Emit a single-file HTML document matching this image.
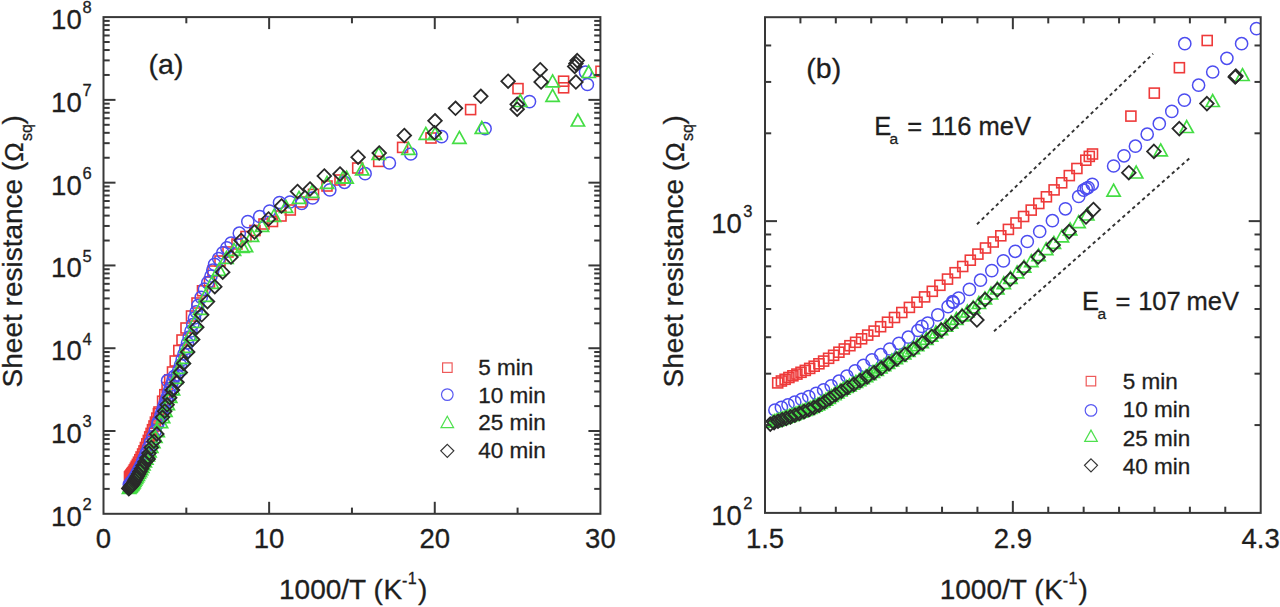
<!DOCTYPE html>
<html><head><meta charset="utf-8"><style>
html,body{margin:0;padding:0;background:#fff;}
svg{display:block;}
text{font-family:"Liberation Sans", sans-serif;stroke:#1e1e1e;stroke-width:0.3px;paint-order:stroke;}
</style></head><body>
<svg width="1280" height="607" viewBox="0 0 1280 607">
<rect width="1280" height="607" fill="#fff"/>
<defs><clipPath id="ca"><rect x="103.5" y="17.1" width="496.9" height="496.7"/></clipPath><clipPath id="cb"><rect x="765.0" y="17.2" width="495.7" height="495.7"/></clipPath></defs>
<g clip-path="url(#ca)">
<rect x="124.5" y="471.9" width="10.0" height="10.0" fill="none" stroke="#ee3a3a" stroke-width="1.6"/>
<rect x="125.2" y="470.9" width="10.0" height="10.0" fill="none" stroke="#ee3a3a" stroke-width="1.6"/>
<rect x="126.0" y="469.9" width="10.0" height="10.0" fill="none" stroke="#ee3a3a" stroke-width="1.6"/>
<rect x="126.7" y="468.9" width="10.0" height="10.0" fill="none" stroke="#ee3a3a" stroke-width="1.6"/>
<rect x="127.5" y="467.8" width="10.0" height="10.0" fill="none" stroke="#ee3a3a" stroke-width="1.6"/>
<rect x="128.4" y="466.5" width="10.0" height="10.0" fill="none" stroke="#ee3a3a" stroke-width="1.6"/>
<rect x="129.3" y="464.9" width="10.0" height="10.0" fill="none" stroke="#ee3a3a" stroke-width="1.6"/>
<rect x="130.3" y="463.2" width="10.0" height="10.0" fill="none" stroke="#ee3a3a" stroke-width="1.6"/>
<rect x="131.3" y="461.3" width="10.0" height="10.0" fill="none" stroke="#ee3a3a" stroke-width="1.6"/>
<rect x="132.4" y="459.4" width="10.0" height="10.0" fill="none" stroke="#ee3a3a" stroke-width="1.6"/>
<rect x="133.5" y="457.2" width="10.0" height="10.0" fill="none" stroke="#ee3a3a" stroke-width="1.6"/>
<rect x="134.8" y="454.7" width="10.0" height="10.0" fill="none" stroke="#ee3a3a" stroke-width="1.6"/>
<rect x="136.1" y="452.0" width="10.0" height="10.0" fill="none" stroke="#ee3a3a" stroke-width="1.6"/>
<rect x="137.6" y="449.0" width="10.0" height="10.0" fill="none" stroke="#ee3a3a" stroke-width="1.6"/>
<rect x="139.0" y="445.9" width="10.0" height="10.0" fill="none" stroke="#ee3a3a" stroke-width="1.6"/>
<rect x="140.4" y="442.5" width="10.0" height="10.0" fill="none" stroke="#ee3a3a" stroke-width="1.6"/>
<rect x="141.8" y="438.9" width="10.0" height="10.0" fill="none" stroke="#ee3a3a" stroke-width="1.6"/>
<rect x="143.3" y="435.4" width="10.0" height="10.0" fill="none" stroke="#ee3a3a" stroke-width="1.6"/>
<rect x="144.7" y="431.9" width="10.0" height="10.0" fill="none" stroke="#ee3a3a" stroke-width="1.6"/>
<rect x="146.1" y="428.4" width="10.0" height="10.0" fill="none" stroke="#ee3a3a" stroke-width="1.6"/>
<rect x="147.5" y="424.7" width="10.0" height="10.0" fill="none" stroke="#ee3a3a" stroke-width="1.6"/>
<rect x="149.0" y="421.0" width="10.0" height="10.0" fill="none" stroke="#ee3a3a" stroke-width="1.6"/>
<rect x="150.4" y="417.1" width="10.0" height="10.0" fill="none" stroke="#ee3a3a" stroke-width="1.6"/>
<rect x="151.8" y="413.1" width="10.0" height="10.0" fill="none" stroke="#ee3a3a" stroke-width="1.6"/>
<rect x="153.4" y="408.7" width="10.0" height="10.0" fill="none" stroke="#ee3a3a" stroke-width="1.6"/>
<rect x="154.0" y="407.0" width="10.0" height="10.0" fill="none" stroke="#ee3a3a" stroke-width="1.6"/>
<rect x="157.6" y="396.2" width="10.0" height="10.0" fill="none" stroke="#ee3a3a" stroke-width="1.6"/>
<rect x="159.8" y="389.7" width="10.0" height="10.0" fill="none" stroke="#ee3a3a" stroke-width="1.6"/>
<rect x="162.1" y="382.5" width="10.0" height="10.0" fill="none" stroke="#ee3a3a" stroke-width="1.6"/>
<rect x="164.7" y="374.8" width="10.0" height="10.0" fill="none" stroke="#ee3a3a" stroke-width="1.6"/>
<rect x="167.5" y="367.0" width="10.0" height="10.0" fill="none" stroke="#ee3a3a" stroke-width="1.6"/>
<rect x="170.2" y="356.0" width="10.0" height="10.0" fill="none" stroke="#ee3a3a" stroke-width="1.6"/>
<rect x="173.8" y="345.5" width="10.0" height="10.0" fill="none" stroke="#ee3a3a" stroke-width="1.6"/>
<rect x="177.0" y="335.0" width="10.0" height="10.0" fill="none" stroke="#ee3a3a" stroke-width="1.6"/>
<rect x="181.0" y="323.0" width="10.0" height="10.0" fill="none" stroke="#ee3a3a" stroke-width="1.6"/>
<rect x="186.5" y="311.0" width="10.0" height="10.0" fill="none" stroke="#ee3a3a" stroke-width="1.6"/>
<rect x="192.0" y="298.0" width="10.0" height="10.0" fill="none" stroke="#ee3a3a" stroke-width="1.6"/>
<rect x="197.5" y="285.8" width="10.0" height="10.0" fill="none" stroke="#ee3a3a" stroke-width="1.6"/>
<rect x="204.5" y="277.0" width="10.0" height="10.0" fill="none" stroke="#ee3a3a" stroke-width="1.6"/>
<rect x="208.0" y="266.0" width="10.0" height="10.0" fill="none" stroke="#ee3a3a" stroke-width="1.6"/>
<rect x="215.0" y="256.0" width="10.0" height="10.0" fill="none" stroke="#ee3a3a" stroke-width="1.6"/>
<rect x="223.0" y="247.0" width="10.0" height="10.0" fill="none" stroke="#ee3a3a" stroke-width="1.6"/>
<rect x="232.0" y="239.0" width="10.0" height="10.0" fill="none" stroke="#ee3a3a" stroke-width="1.6"/>
<rect x="241.0" y="231.5" width="10.0" height="10.0" fill="none" stroke="#ee3a3a" stroke-width="1.6"/>
<rect x="250.0" y="225.5" width="10.0" height="10.0" fill="none" stroke="#ee3a3a" stroke-width="1.6"/>
<rect x="259.0" y="219.0" width="10.0" height="10.0" fill="none" stroke="#ee3a3a" stroke-width="1.6"/>
<rect x="267.5" y="216.5" width="10.0" height="10.0" fill="none" stroke="#ee3a3a" stroke-width="1.6"/>
<rect x="276.0" y="211.0" width="10.0" height="10.0" fill="none" stroke="#ee3a3a" stroke-width="1.6"/>
<rect x="285.3" y="205.0" width="10.0" height="10.0" fill="none" stroke="#ee3a3a" stroke-width="1.6"/>
<rect x="296.0" y="197.0" width="10.0" height="10.0" fill="none" stroke="#ee3a3a" stroke-width="1.6"/>
<rect x="308.5" y="189.4" width="10.0" height="10.0" fill="none" stroke="#ee3a3a" stroke-width="1.6"/>
<rect x="322.0" y="181.0" width="10.0" height="10.0" fill="none" stroke="#ee3a3a" stroke-width="1.6"/>
<rect x="335.0" y="175.0" width="10.0" height="10.0" fill="none" stroke="#ee3a3a" stroke-width="1.6"/>
<rect x="352.7" y="163.0" width="10.0" height="10.0" fill="none" stroke="#ee3a3a" stroke-width="1.6"/>
<rect x="373.7" y="156.4" width="10.0" height="10.0" fill="none" stroke="#ee3a3a" stroke-width="1.6"/>
<rect x="397.6" y="142.4" width="10.0" height="10.0" fill="none" stroke="#ee3a3a" stroke-width="1.6"/>
<rect x="426.0" y="133.0" width="10.0" height="10.0" fill="none" stroke="#ee3a3a" stroke-width="1.6"/>
<rect x="465.6" y="104.6" width="10.0" height="10.0" fill="none" stroke="#ee3a3a" stroke-width="1.6"/>
<rect x="513.0" y="83.6" width="10.0" height="10.0" fill="none" stroke="#ee3a3a" stroke-width="1.6"/>
<rect x="558.6" y="76.2" width="10.0" height="10.0" fill="none" stroke="#ee3a3a" stroke-width="1.6"/>
<rect x="558.6" y="82.8" width="10.0" height="10.0" fill="none" stroke="#ee3a3a" stroke-width="1.6"/>
<rect x="596.0" y="66.3" width="10.0" height="10.0" fill="none" stroke="#ee3a3a" stroke-width="1.6"/>
<circle cx="129.3" cy="484.6" r="6.1" fill="none" stroke="#4d4df0" stroke-width="1.5"/>
<circle cx="130.5" cy="483.1" r="6.1" fill="none" stroke="#4d4df0" stroke-width="1.5"/>
<circle cx="131.8" cy="481.6" r="6.1" fill="none" stroke="#4d4df0" stroke-width="1.5"/>
<circle cx="133.1" cy="479.9" r="6.1" fill="none" stroke="#4d4df0" stroke-width="1.5"/>
<circle cx="134.5" cy="477.7" r="6.1" fill="none" stroke="#4d4df0" stroke-width="1.5"/>
<circle cx="136.0" cy="475.0" r="6.1" fill="none" stroke="#4d4df0" stroke-width="1.5"/>
<circle cx="137.6" cy="471.9" r="6.1" fill="none" stroke="#4d4df0" stroke-width="1.5"/>
<circle cx="139.2" cy="468.9" r="6.1" fill="none" stroke="#4d4df0" stroke-width="1.5"/>
<circle cx="140.9" cy="465.7" r="6.1" fill="none" stroke="#4d4df0" stroke-width="1.5"/>
<circle cx="142.7" cy="462.0" r="6.1" fill="none" stroke="#4d4df0" stroke-width="1.5"/>
<circle cx="144.5" cy="457.6" r="6.1" fill="none" stroke="#4d4df0" stroke-width="1.5"/>
<circle cx="146.5" cy="452.8" r="6.1" fill="none" stroke="#4d4df0" stroke-width="1.5"/>
<circle cx="148.5" cy="447.8" r="6.1" fill="none" stroke="#4d4df0" stroke-width="1.5"/>
<circle cx="150.6" cy="442.3" r="6.1" fill="none" stroke="#4d4df0" stroke-width="1.5"/>
<circle cx="152.9" cy="436.8" r="6.1" fill="none" stroke="#4d4df0" stroke-width="1.5"/>
<circle cx="155.2" cy="430.9" r="6.1" fill="none" stroke="#4d4df0" stroke-width="1.5"/>
<circle cx="157.7" cy="424.0" r="6.1" fill="none" stroke="#4d4df0" stroke-width="1.5"/>
<circle cx="143.0" cy="460.9" r="6.1" fill="none" stroke="#4d4df0" stroke-width="1.5"/>
<circle cx="146.0" cy="454.1" r="6.1" fill="none" stroke="#4d4df0" stroke-width="1.5"/>
<circle cx="158.4" cy="421.7" r="6.1" fill="none" stroke="#4d4df0" stroke-width="1.5"/>
<circle cx="161.0" cy="415.4" r="6.1" fill="none" stroke="#4d4df0" stroke-width="1.5"/>
<circle cx="161.9" cy="412.5" r="6.1" fill="none" stroke="#4d4df0" stroke-width="1.5"/>
<circle cx="163.0" cy="409.7" r="6.1" fill="none" stroke="#4d4df0" stroke-width="1.5"/>
<circle cx="164.1" cy="406.3" r="6.1" fill="none" stroke="#4d4df0" stroke-width="1.5"/>
<circle cx="165.2" cy="403.4" r="6.1" fill="none" stroke="#4d4df0" stroke-width="1.5"/>
<circle cx="166.4" cy="399.9" r="6.1" fill="none" stroke="#4d4df0" stroke-width="1.5"/>
<circle cx="167.6" cy="396.7" r="6.1" fill="none" stroke="#4d4df0" stroke-width="1.5"/>
<circle cx="168.9" cy="392.4" r="6.1" fill="none" stroke="#4d4df0" stroke-width="1.5"/>
<circle cx="170.2" cy="388.7" r="6.1" fill="none" stroke="#4d4df0" stroke-width="1.5"/>
<circle cx="171.6" cy="384.8" r="6.1" fill="none" stroke="#4d4df0" stroke-width="1.5"/>
<circle cx="172.9" cy="380.7" r="6.1" fill="none" stroke="#4d4df0" stroke-width="1.5"/>
<circle cx="174.3" cy="376.4" r="6.1" fill="none" stroke="#4d4df0" stroke-width="1.5"/>
<circle cx="167.6" cy="380.7" r="6.1" fill="none" stroke="#4d4df0" stroke-width="1.5"/>
<circle cx="177.0" cy="375.0" r="6.1" fill="none" stroke="#4d4df0" stroke-width="1.5"/>
<circle cx="178.8" cy="370.0" r="6.1" fill="none" stroke="#4d4df0" stroke-width="1.5"/>
<circle cx="180.5" cy="365.0" r="6.1" fill="none" stroke="#4d4df0" stroke-width="1.5"/>
<circle cx="182.2" cy="359.5" r="6.1" fill="none" stroke="#4d4df0" stroke-width="1.5"/>
<circle cx="184.0" cy="354.0" r="6.1" fill="none" stroke="#4d4df0" stroke-width="1.5"/>
<circle cx="185.8" cy="348.5" r="6.1" fill="none" stroke="#4d4df0" stroke-width="1.5"/>
<circle cx="187.5" cy="343.0" r="6.1" fill="none" stroke="#4d4df0" stroke-width="1.5"/>
<circle cx="189.2" cy="337.0" r="6.1" fill="none" stroke="#4d4df0" stroke-width="1.5"/>
<circle cx="191.0" cy="331.0" r="6.1" fill="none" stroke="#4d4df0" stroke-width="1.5"/>
<circle cx="192.8" cy="324.5" r="6.1" fill="none" stroke="#4d4df0" stroke-width="1.5"/>
<circle cx="194.5" cy="318.0" r="6.1" fill="none" stroke="#4d4df0" stroke-width="1.5"/>
<circle cx="196.2" cy="311.8" r="6.1" fill="none" stroke="#4d4df0" stroke-width="1.5"/>
<circle cx="197.9" cy="305.6" r="6.1" fill="none" stroke="#4d4df0" stroke-width="1.5"/>
<circle cx="201.2" cy="297.4" r="6.1" fill="none" stroke="#4d4df0" stroke-width="1.5"/>
<circle cx="204.5" cy="289.1" r="6.1" fill="none" stroke="#4d4df0" stroke-width="1.5"/>
<circle cx="207.8" cy="282.6" r="6.1" fill="none" stroke="#4d4df0" stroke-width="1.5"/>
<circle cx="211.0" cy="276.0" r="6.1" fill="none" stroke="#4d4df0" stroke-width="1.5"/>
<circle cx="212.8" cy="270.2" r="6.1" fill="none" stroke="#4d4df0" stroke-width="1.5"/>
<circle cx="214.6" cy="264.4" r="6.1" fill="none" stroke="#4d4df0" stroke-width="1.5"/>
<circle cx="218.7" cy="258.6" r="6.1" fill="none" stroke="#4d4df0" stroke-width="1.5"/>
<circle cx="222.8" cy="252.9" r="6.1" fill="none" stroke="#4d4df0" stroke-width="1.5"/>
<circle cx="226.9" cy="247.9" r="6.1" fill="none" stroke="#4d4df0" stroke-width="1.5"/>
<circle cx="231.1" cy="243.0" r="6.1" fill="none" stroke="#4d4df0" stroke-width="1.5"/>
<circle cx="239.3" cy="233.2" r="6.1" fill="none" stroke="#4d4df0" stroke-width="1.5"/>
<circle cx="247.8" cy="221.6" r="6.1" fill="none" stroke="#4d4df0" stroke-width="1.5"/>
<circle cx="259.7" cy="216.5" r="6.1" fill="none" stroke="#4d4df0" stroke-width="1.5"/>
<circle cx="269.6" cy="211.0" r="6.1" fill="none" stroke="#4d4df0" stroke-width="1.5"/>
<circle cx="279.5" cy="202.5" r="6.1" fill="none" stroke="#4d4df0" stroke-width="1.5"/>
<circle cx="290.0" cy="202.0" r="6.1" fill="none" stroke="#4d4df0" stroke-width="1.5"/>
<circle cx="301.7" cy="203.5" r="6.1" fill="none" stroke="#4d4df0" stroke-width="1.5"/>
<circle cx="312.6" cy="198.0" r="6.1" fill="none" stroke="#4d4df0" stroke-width="1.5"/>
<circle cx="329.8" cy="189.9" r="6.1" fill="none" stroke="#4d4df0" stroke-width="1.5"/>
<circle cx="344.5" cy="182.3" r="6.1" fill="none" stroke="#4d4df0" stroke-width="1.5"/>
<circle cx="365.1" cy="173.7" r="6.1" fill="none" stroke="#4d4df0" stroke-width="1.5"/>
<circle cx="389.4" cy="163.0" r="6.1" fill="none" stroke="#4d4df0" stroke-width="1.5"/>
<circle cx="410.8" cy="154.0" r="6.1" fill="none" stroke="#4d4df0" stroke-width="1.5"/>
<circle cx="441.6" cy="136.7" r="6.1" fill="none" stroke="#4d4df0" stroke-width="1.5"/>
<circle cx="485.1" cy="128.7" r="6.1" fill="none" stroke="#4d4df0" stroke-width="1.5"/>
<circle cx="529.5" cy="101.6" r="6.1" fill="none" stroke="#4d4df0" stroke-width="1.5"/>
<circle cx="585.5" cy="72.1" r="6.1" fill="none" stroke="#4d4df0" stroke-width="1.5"/>
<circle cx="587.4" cy="84.5" r="6.1" fill="none" stroke="#4d4df0" stroke-width="1.5"/>
<path d="M129.1,481.4L135.7,493.3L122.5,493.3Z" fill="none" stroke="#44dd44" stroke-width="1.7" stroke-linejoin="miter"/>
<path d="M129.6,480.8L136.2,492.7L123.0,492.7Z" fill="none" stroke="#44dd44" stroke-width="1.7" stroke-linejoin="miter"/>
<path d="M130.2,480.2L136.8,492.1L123.6,492.1Z" fill="none" stroke="#44dd44" stroke-width="1.7" stroke-linejoin="miter"/>
<path d="M130.8,479.5L137.4,491.4L124.2,491.4Z" fill="none" stroke="#44dd44" stroke-width="1.7" stroke-linejoin="miter"/>
<path d="M131.5,478.8L138.1,490.7L124.9,490.7Z" fill="none" stroke="#44dd44" stroke-width="1.7" stroke-linejoin="miter"/>
<path d="M132.1,478.0L138.7,489.9L125.5,489.9Z" fill="none" stroke="#44dd44" stroke-width="1.7" stroke-linejoin="miter"/>
<path d="M132.8,477.1L139.4,489.0L126.2,489.0Z" fill="none" stroke="#44dd44" stroke-width="1.7" stroke-linejoin="miter"/>
<path d="M133.5,476.0L140.1,487.9L126.9,487.9Z" fill="none" stroke="#44dd44" stroke-width="1.7" stroke-linejoin="miter"/>
<path d="M134.3,474.6L140.9,486.5L127.7,486.5Z" fill="none" stroke="#44dd44" stroke-width="1.7" stroke-linejoin="miter"/>
<path d="M135.1,473.1L141.7,484.9L128.5,484.9Z" fill="none" stroke="#44dd44" stroke-width="1.7" stroke-linejoin="miter"/>
<path d="M136.0,471.5L142.6,483.4L129.4,483.4Z" fill="none" stroke="#44dd44" stroke-width="1.7" stroke-linejoin="miter"/>
<path d="M136.8,470.1L143.4,482.0L130.2,482.0Z" fill="none" stroke="#44dd44" stroke-width="1.7" stroke-linejoin="miter"/>
<path d="M137.8,468.5L144.4,480.3L131.2,480.3Z" fill="none" stroke="#44dd44" stroke-width="1.7" stroke-linejoin="miter"/>
<path d="M138.8,466.7L145.4,478.5L132.2,478.5Z" fill="none" stroke="#44dd44" stroke-width="1.7" stroke-linejoin="miter"/>
<path d="M139.9,464.7L146.5,476.6L133.3,476.6Z" fill="none" stroke="#44dd44" stroke-width="1.7" stroke-linejoin="miter"/>
<path d="M141.0,462.7L147.6,474.6L134.4,474.6Z" fill="none" stroke="#44dd44" stroke-width="1.7" stroke-linejoin="miter"/>
<path d="M142.2,460.5L148.8,472.4L135.6,472.4Z" fill="none" stroke="#44dd44" stroke-width="1.7" stroke-linejoin="miter"/>
<path d="M143.4,457.9L150.0,469.8L136.8,469.8Z" fill="none" stroke="#44dd44" stroke-width="1.7" stroke-linejoin="miter"/>
<path d="M144.8,455.1L151.4,467.0L138.2,467.0Z" fill="none" stroke="#44dd44" stroke-width="1.7" stroke-linejoin="miter"/>
<path d="M146.3,452.2L152.9,464.1L139.7,464.1Z" fill="none" stroke="#44dd44" stroke-width="1.7" stroke-linejoin="miter"/>
<path d="M147.8,449.0L154.4,460.8L141.2,460.8Z" fill="none" stroke="#44dd44" stroke-width="1.7" stroke-linejoin="miter"/>
<path d="M149.5,445.0L156.1,456.9L142.9,456.9Z" fill="none" stroke="#44dd44" stroke-width="1.7" stroke-linejoin="miter"/>
<path d="M151.3,440.6L157.9,452.4L144.7,452.4Z" fill="none" stroke="#44dd44" stroke-width="1.7" stroke-linejoin="miter"/>
<path d="M153.3,435.8L159.9,447.7L146.7,447.7Z" fill="none" stroke="#44dd44" stroke-width="1.7" stroke-linejoin="miter"/>
<path d="M155.4,430.7L162.0,442.5L148.8,442.5Z" fill="none" stroke="#44dd44" stroke-width="1.7" stroke-linejoin="miter"/>
<path d="M157.7,424.8L164.3,436.6L151.1,436.6Z" fill="none" stroke="#44dd44" stroke-width="1.7" stroke-linejoin="miter"/>
<path d="M161.0,415.8L167.6,427.7L154.4,427.7Z" fill="none" stroke="#44dd44" stroke-width="1.7" stroke-linejoin="miter"/>
<path d="M163.1,410.7L169.7,422.6L156.5,422.6Z" fill="none" stroke="#44dd44" stroke-width="1.7" stroke-linejoin="miter"/>
<path d="M165.4,404.4L172.0,416.3L158.8,416.3Z" fill="none" stroke="#44dd44" stroke-width="1.7" stroke-linejoin="miter"/>
<path d="M167.8,397.8L174.4,409.6L161.2,409.6Z" fill="none" stroke="#44dd44" stroke-width="1.7" stroke-linejoin="miter"/>
<path d="M170.2,390.4L176.8,402.3L163.6,402.3Z" fill="none" stroke="#44dd44" stroke-width="1.7" stroke-linejoin="miter"/>
<path d="M173.0,383.0L179.6,394.9L166.4,394.9Z" fill="none" stroke="#44dd44" stroke-width="1.7" stroke-linejoin="miter"/>
<path d="M176.0,371.4L182.6,383.3L169.4,383.3Z" fill="none" stroke="#44dd44" stroke-width="1.7" stroke-linejoin="miter"/>
<path d="M179.5,361.4L186.1,373.3L172.9,373.3Z" fill="none" stroke="#44dd44" stroke-width="1.7" stroke-linejoin="miter"/>
<path d="M183.0,351.4L189.6,363.3L176.4,363.3Z" fill="none" stroke="#44dd44" stroke-width="1.7" stroke-linejoin="miter"/>
<path d="M186.5,340.4L193.1,352.3L179.9,352.3Z" fill="none" stroke="#44dd44" stroke-width="1.7" stroke-linejoin="miter"/>
<path d="M190.5,328.4L197.1,340.3L183.9,340.3Z" fill="none" stroke="#44dd44" stroke-width="1.7" stroke-linejoin="miter"/>
<path d="M195.0,315.4L201.6,327.3L188.4,327.3Z" fill="none" stroke="#44dd44" stroke-width="1.7" stroke-linejoin="miter"/>
<path d="M200.0,302.4L206.6,314.3L193.4,314.3Z" fill="none" stroke="#44dd44" stroke-width="1.7" stroke-linejoin="miter"/>
<path d="M205.5,289.4L212.1,301.3L198.9,301.3Z" fill="none" stroke="#44dd44" stroke-width="1.7" stroke-linejoin="miter"/>
<path d="M212.0,276.4L218.6,288.3L205.4,288.3Z" fill="none" stroke="#44dd44" stroke-width="1.7" stroke-linejoin="miter"/>
<path d="M219.0,263.4L225.6,275.3L212.4,275.3Z" fill="none" stroke="#44dd44" stroke-width="1.7" stroke-linejoin="miter"/>
<path d="M226.5,251.4L233.1,263.3L219.9,263.3Z" fill="none" stroke="#44dd44" stroke-width="1.7" stroke-linejoin="miter"/>
<path d="M234.0,243.4L240.6,255.3L227.4,255.3Z" fill="none" stroke="#44dd44" stroke-width="1.7" stroke-linejoin="miter"/>
<path d="M242.5,240.5L249.1,252.4L235.9,252.4Z" fill="none" stroke="#44dd44" stroke-width="1.7" stroke-linejoin="miter"/>
<path d="M246.0,239.7L252.6,251.6L239.4,251.6Z" fill="none" stroke="#44dd44" stroke-width="1.7" stroke-linejoin="miter"/>
<path d="M252.0,229.4L258.6,241.3L245.4,241.3Z" fill="none" stroke="#44dd44" stroke-width="1.7" stroke-linejoin="miter"/>
<path d="M262.0,219.4L268.6,231.3L255.4,231.3Z" fill="none" stroke="#44dd44" stroke-width="1.7" stroke-linejoin="miter"/>
<path d="M274.0,209.4L280.6,221.3L267.4,221.3Z" fill="none" stroke="#44dd44" stroke-width="1.7" stroke-linejoin="miter"/>
<path d="M286.0,200.4L292.6,212.3L279.4,212.3Z" fill="none" stroke="#44dd44" stroke-width="1.7" stroke-linejoin="miter"/>
<path d="M299.0,191.4L305.6,203.3L292.4,203.3Z" fill="none" stroke="#44dd44" stroke-width="1.7" stroke-linejoin="miter"/>
<path d="M312.0,185.4L318.6,197.3L305.4,197.3Z" fill="none" stroke="#44dd44" stroke-width="1.7" stroke-linejoin="miter"/>
<path d="M327.0,176.4L333.6,188.3L320.4,188.3Z" fill="none" stroke="#44dd44" stroke-width="1.7" stroke-linejoin="miter"/>
<path d="M343.0,171.3L349.6,183.2L336.4,183.2Z" fill="none" stroke="#44dd44" stroke-width="1.7" stroke-linejoin="miter"/>
<path d="M346.6,171.2L353.2,183.1L340.0,183.1Z" fill="none" stroke="#44dd44" stroke-width="1.7" stroke-linejoin="miter"/>
<path d="M362.2,163.0L368.8,174.9L355.6,174.9Z" fill="none" stroke="#44dd44" stroke-width="1.7" stroke-linejoin="miter"/>
<path d="M378.7,147.4L385.3,159.3L372.1,159.3Z" fill="none" stroke="#44dd44" stroke-width="1.7" stroke-linejoin="miter"/>
<path d="M408.4,142.4L415.0,154.3L401.8,154.3Z" fill="none" stroke="#44dd44" stroke-width="1.7" stroke-linejoin="miter"/>
<path d="M425.8,127.4L432.4,139.3L419.2,139.3Z" fill="none" stroke="#44dd44" stroke-width="1.7" stroke-linejoin="miter"/>
<path d="M435.0,127.4L441.6,139.3L428.4,139.3Z" fill="none" stroke="#44dd44" stroke-width="1.7" stroke-linejoin="miter"/>
<path d="M459.4,131.4L466.0,143.3L452.8,143.3Z" fill="none" stroke="#44dd44" stroke-width="1.7" stroke-linejoin="miter"/>
<path d="M481.8,121.5L488.4,133.4L475.2,133.4Z" fill="none" stroke="#44dd44" stroke-width="1.7" stroke-linejoin="miter"/>
<path d="M520.3,94.6L526.9,106.5L513.7,106.5Z" fill="none" stroke="#44dd44" stroke-width="1.7" stroke-linejoin="miter"/>
<path d="M552.6,74.9L559.2,86.8L546.0,86.8Z" fill="none" stroke="#44dd44" stroke-width="1.7" stroke-linejoin="miter"/>
<path d="M552.6,89.4L559.2,101.3L546.0,101.3Z" fill="none" stroke="#44dd44" stroke-width="1.7" stroke-linejoin="miter"/>
<path d="M577.9,114.1L584.5,126.0L571.3,126.0Z" fill="none" stroke="#44dd44" stroke-width="1.7" stroke-linejoin="miter"/>
<path d="M588.7,65.6L595.3,77.5L582.1,77.5Z" fill="none" stroke="#44dd44" stroke-width="1.7" stroke-linejoin="miter"/>
<path d="M128.8,481.8L135.6,488.6L128.8,495.4L122.0,488.6Z" fill="none" stroke="#2a2a2a" stroke-width="1.8"/>
<path d="M129.6,481.0L136.4,487.8L129.6,494.6L122.8,487.8Z" fill="none" stroke="#2a2a2a" stroke-width="1.8"/>
<path d="M130.3,480.2L137.1,487.0L130.3,493.8L123.5,487.0Z" fill="none" stroke="#2a2a2a" stroke-width="1.8"/>
<path d="M131.1,479.3L137.9,486.1L131.1,492.9L124.3,486.1Z" fill="none" stroke="#2a2a2a" stroke-width="1.8"/>
<path d="M132.0,478.3L138.8,485.1L132.0,491.9L125.2,485.1Z" fill="none" stroke="#2a2a2a" stroke-width="1.8"/>
<path d="M132.9,477.1L139.7,483.9L132.9,490.7L126.1,483.9Z" fill="none" stroke="#2a2a2a" stroke-width="1.8"/>
<path d="M133.9,475.5L140.7,482.3L133.9,489.1L127.1,482.3Z" fill="none" stroke="#2a2a2a" stroke-width="1.8"/>
<path d="M134.9,473.5L141.7,480.3L134.9,487.1L128.1,480.3Z" fill="none" stroke="#2a2a2a" stroke-width="1.8"/>
<path d="M136.1,471.5L142.9,478.3L136.1,485.1L129.3,478.3Z" fill="none" stroke="#2a2a2a" stroke-width="1.8"/>
<path d="M137.3,469.5L144.1,476.3L137.3,483.1L130.5,476.3Z" fill="none" stroke="#2a2a2a" stroke-width="1.8"/>
<path d="M138.6,467.2L145.4,474.0L138.6,480.8L131.8,474.0Z" fill="none" stroke="#2a2a2a" stroke-width="1.8"/>
<path d="M139.9,464.7L146.7,471.5L139.9,478.3L133.1,471.5Z" fill="none" stroke="#2a2a2a" stroke-width="1.8"/>
<path d="M141.4,462.0L148.2,468.8L141.4,475.6L134.6,468.8Z" fill="none" stroke="#2a2a2a" stroke-width="1.8"/>
<path d="M143.1,458.8L149.9,465.6L143.1,472.4L136.3,465.6Z" fill="none" stroke="#2a2a2a" stroke-width="1.8"/>
<path d="M144.9,455.1L151.7,461.9L144.9,468.7L138.1,461.9Z" fill="none" stroke="#2a2a2a" stroke-width="1.8"/>
<path d="M146.8,451.3L153.6,458.1L146.8,464.9L140.0,458.1Z" fill="none" stroke="#2a2a2a" stroke-width="1.8"/>
<path d="M148.9,446.5L155.7,453.3L148.9,460.1L142.1,453.3Z" fill="none" stroke="#2a2a2a" stroke-width="1.8"/>
<path d="M151.3,440.7L158.1,447.5L151.3,454.3L144.5,447.5Z" fill="none" stroke="#2a2a2a" stroke-width="1.8"/>
<path d="M153.9,434.4L160.7,441.2L153.9,448.0L147.1,441.2Z" fill="none" stroke="#2a2a2a" stroke-width="1.8"/>
<path d="M156.8,427.2L163.6,434.0L156.8,440.8L150.0,434.0Z" fill="none" stroke="#2a2a2a" stroke-width="1.8"/>
<path d="M148.2,452.3L155.0,459.1L148.2,465.9L141.4,459.1Z" fill="none" stroke="#2a2a2a" stroke-width="1.8"/>
<path d="M162.4,410.5L169.2,417.3L162.4,424.1L155.6,417.3Z" fill="none" stroke="#2a2a2a" stroke-width="1.8"/>
<path d="M164.7,404.4L171.5,411.2L164.7,418.0L157.9,411.2Z" fill="none" stroke="#2a2a2a" stroke-width="1.8"/>
<path d="M167.1,398.0L173.9,404.8L167.1,411.6L160.3,404.8Z" fill="none" stroke="#2a2a2a" stroke-width="1.8"/>
<path d="M169.7,390.9L176.5,397.7L169.7,404.5L162.9,397.7Z" fill="none" stroke="#2a2a2a" stroke-width="1.8"/>
<path d="M172.3,383.3L179.1,390.1L172.3,396.9L165.5,390.1Z" fill="none" stroke="#2a2a2a" stroke-width="1.8"/>
<path d="M172.4,383.1L179.2,389.9L172.4,396.7L165.6,389.9Z" fill="none" stroke="#2a2a2a" stroke-width="1.8"/>
<path d="M177.0,375.5L183.8,382.3L177.0,389.1L170.2,382.3Z" fill="none" stroke="#2a2a2a" stroke-width="1.8"/>
<path d="M180.3,365.6L187.1,372.4L180.3,379.2L173.5,372.4Z" fill="none" stroke="#2a2a2a" stroke-width="1.8"/>
<path d="M183.6,356.6L190.4,363.4L183.6,370.2L176.8,363.4Z" fill="none" stroke="#2a2a2a" stroke-width="1.8"/>
<path d="M187.7,345.1L194.5,351.9L187.7,358.7L180.9,351.9Z" fill="none" stroke="#2a2a2a" stroke-width="1.8"/>
<path d="M192.7,332.7L199.5,339.5L192.7,346.3L185.9,339.5Z" fill="none" stroke="#2a2a2a" stroke-width="1.8"/>
<path d="M196.8,320.4L203.6,327.2L196.8,334.0L190.0,327.2Z" fill="none" stroke="#2a2a2a" stroke-width="1.8"/>
<path d="M201.7,308.0L208.5,314.8L201.7,321.6L194.9,314.8Z" fill="none" stroke="#2a2a2a" stroke-width="1.8"/>
<path d="M207.5,294.8L214.3,301.6L207.5,308.4L200.7,301.6Z" fill="none" stroke="#2a2a2a" stroke-width="1.8"/>
<path d="M214.8,279.9L221.6,286.7L214.8,293.5L208.0,286.7Z" fill="none" stroke="#2a2a2a" stroke-width="1.8"/>
<path d="M222.7,265.4L229.5,272.2L222.7,279.0L215.9,272.2Z" fill="none" stroke="#2a2a2a" stroke-width="1.8"/>
<path d="M231.0,250.2L237.8,257.0L231.0,263.8L224.2,257.0Z" fill="none" stroke="#2a2a2a" stroke-width="1.8"/>
<path d="M241.1,233.7L247.9,240.5L241.1,247.3L234.3,240.5Z" fill="none" stroke="#2a2a2a" stroke-width="1.8"/>
<path d="M254.5,225.2L261.3,232.0L254.5,238.8L247.7,232.0Z" fill="none" stroke="#2a2a2a" stroke-width="1.8"/>
<path d="M268.5,212.2L275.3,219.0L268.5,225.8L261.7,219.0Z" fill="none" stroke="#2a2a2a" stroke-width="1.8"/>
<path d="M281.5,199.2L288.3,206.0L281.5,212.8L274.7,206.0Z" fill="none" stroke="#2a2a2a" stroke-width="1.8"/>
<path d="M297.5,184.7L304.3,191.5L297.5,198.3L290.7,191.5Z" fill="none" stroke="#2a2a2a" stroke-width="1.8"/>
<path d="M310.0,182.2L316.8,189.0L310.0,195.8L303.2,189.0Z" fill="none" stroke="#2a2a2a" stroke-width="1.8"/>
<path d="M324.3,169.2L331.1,176.0L324.3,182.8L317.5,176.0Z" fill="none" stroke="#2a2a2a" stroke-width="1.8"/>
<path d="M340.0,167.2L346.8,174.0L340.0,180.8L333.2,174.0Z" fill="none" stroke="#2a2a2a" stroke-width="1.8"/>
<path d="M358.1,150.4L364.9,157.2L358.1,164.0L351.3,157.2Z" fill="none" stroke="#2a2a2a" stroke-width="1.8"/>
<path d="M379.2,146.2L386.0,153.0L379.2,159.8L372.4,153.0Z" fill="none" stroke="#2a2a2a" stroke-width="1.8"/>
<path d="M404.3,128.7L411.1,135.5L404.3,142.3L397.5,135.5Z" fill="none" stroke="#2a2a2a" stroke-width="1.8"/>
<path d="M435.0,114.0L441.8,120.8L435.0,127.6L428.2,120.8Z" fill="none" stroke="#2a2a2a" stroke-width="1.8"/>
<path d="M434.4,125.9L441.2,132.7L434.4,139.5L427.6,132.7Z" fill="none" stroke="#2a2a2a" stroke-width="1.8"/>
<path d="M455.5,101.5L462.3,108.3L455.5,115.1L448.7,108.3Z" fill="none" stroke="#2a2a2a" stroke-width="1.8"/>
<path d="M480.8,89.5L487.6,96.3L480.8,103.1L474.0,96.3Z" fill="none" stroke="#2a2a2a" stroke-width="1.8"/>
<path d="M508.1,74.4L514.9,81.2L508.1,88.0L501.3,81.2Z" fill="none" stroke="#2a2a2a" stroke-width="1.8"/>
<path d="M517.2,97.5L524.0,104.3L517.2,111.1L510.4,104.3Z" fill="none" stroke="#2a2a2a" stroke-width="1.8"/>
<path d="M517.2,102.4L524.0,109.2L517.2,116.0L510.4,109.2Z" fill="none" stroke="#2a2a2a" stroke-width="1.8"/>
<path d="M540.2,62.9L547.0,69.7L540.2,76.5L533.4,69.7Z" fill="none" stroke="#2a2a2a" stroke-width="1.8"/>
<path d="M541.1,75.2L547.9,82.0L541.1,88.8L534.3,82.0Z" fill="none" stroke="#2a2a2a" stroke-width="1.8"/>
<path d="M577.2,53.8L584.0,60.6L577.2,67.4L570.4,60.6Z" fill="none" stroke="#2a2a2a" stroke-width="1.8"/>
<path d="M575.9,56.8L582.7,63.6L575.9,70.4L569.1,63.6Z" fill="none" stroke="#2a2a2a" stroke-width="1.8"/>
<path d="M574.7,59.6L581.5,66.4L574.7,73.2L567.9,66.4Z" fill="none" stroke="#2a2a2a" stroke-width="1.8"/>
<path d="M575.9,75.2L582.7,82.0L575.9,88.8L569.1,82.0Z" fill="none" stroke="#2a2a2a" stroke-width="1.8"/>
</g>
<g clip-path="url(#cb)">
<rect x="772.7" y="377.9" width="10.0" height="10.0" fill="none" stroke="#ee3a3a" stroke-width="1.6"/>
<rect x="776.4" y="376.0" width="10.0" height="10.0" fill="none" stroke="#ee3a3a" stroke-width="1.6"/>
<rect x="780.1" y="374.3" width="10.0" height="10.0" fill="none" stroke="#ee3a3a" stroke-width="1.6"/>
<rect x="783.9" y="372.5" width="10.0" height="10.0" fill="none" stroke="#ee3a3a" stroke-width="1.6"/>
<rect x="787.9" y="370.8" width="10.0" height="10.0" fill="none" stroke="#ee3a3a" stroke-width="1.6"/>
<rect x="791.9" y="369.1" width="10.0" height="10.0" fill="none" stroke="#ee3a3a" stroke-width="1.6"/>
<rect x="796.0" y="367.3" width="10.0" height="10.0" fill="none" stroke="#ee3a3a" stroke-width="1.6"/>
<rect x="800.3" y="365.4" width="10.0" height="10.0" fill="none" stroke="#ee3a3a" stroke-width="1.6"/>
<rect x="804.7" y="363.4" width="10.0" height="10.0" fill="none" stroke="#ee3a3a" stroke-width="1.6"/>
<rect x="809.2" y="361.2" width="10.0" height="10.0" fill="none" stroke="#ee3a3a" stroke-width="1.6"/>
<rect x="813.9" y="358.8" width="10.0" height="10.0" fill="none" stroke="#ee3a3a" stroke-width="1.6"/>
<rect x="818.6" y="356.1" width="10.0" height="10.0" fill="none" stroke="#ee3a3a" stroke-width="1.6"/>
<rect x="823.6" y="353.3" width="10.0" height="10.0" fill="none" stroke="#ee3a3a" stroke-width="1.6"/>
<rect x="828.6" y="350.3" width="10.0" height="10.0" fill="none" stroke="#ee3a3a" stroke-width="1.6"/>
<rect x="833.9" y="347.2" width="10.0" height="10.0" fill="none" stroke="#ee3a3a" stroke-width="1.6"/>
<rect x="839.3" y="344.0" width="10.0" height="10.0" fill="none" stroke="#ee3a3a" stroke-width="1.6"/>
<rect x="844.9" y="340.7" width="10.0" height="10.0" fill="none" stroke="#ee3a3a" stroke-width="1.6"/>
<rect x="850.6" y="337.3" width="10.0" height="10.0" fill="none" stroke="#ee3a3a" stroke-width="1.6"/>
<rect x="856.6" y="333.8" width="10.0" height="10.0" fill="none" stroke="#ee3a3a" stroke-width="1.6"/>
<rect x="862.7" y="330.1" width="10.0" height="10.0" fill="none" stroke="#ee3a3a" stroke-width="1.6"/>
<rect x="869.1" y="326.1" width="10.0" height="10.0" fill="none" stroke="#ee3a3a" stroke-width="1.6"/>
<rect x="875.6" y="321.7" width="10.0" height="10.0" fill="none" stroke="#ee3a3a" stroke-width="1.6"/>
<rect x="882.5" y="317.2" width="10.0" height="10.0" fill="none" stroke="#ee3a3a" stroke-width="1.6"/>
<rect x="889.5" y="312.5" width="10.0" height="10.0" fill="none" stroke="#ee3a3a" stroke-width="1.6"/>
<rect x="896.8" y="307.5" width="10.0" height="10.0" fill="none" stroke="#ee3a3a" stroke-width="1.6"/>
<rect x="904.4" y="302.4" width="10.0" height="10.0" fill="none" stroke="#ee3a3a" stroke-width="1.6"/>
<rect x="912.0" y="297.2" width="10.0" height="10.0" fill="none" stroke="#ee3a3a" stroke-width="1.6"/>
<rect x="919.6" y="291.9" width="10.0" height="10.0" fill="none" stroke="#ee3a3a" stroke-width="1.6"/>
<rect x="927.3" y="286.3" width="10.0" height="10.0" fill="none" stroke="#ee3a3a" stroke-width="1.6"/>
<rect x="934.9" y="280.3" width="10.0" height="10.0" fill="none" stroke="#ee3a3a" stroke-width="1.6"/>
<rect x="942.5" y="274.1" width="10.0" height="10.0" fill="none" stroke="#ee3a3a" stroke-width="1.6"/>
<rect x="950.1" y="267.7" width="10.0" height="10.0" fill="none" stroke="#ee3a3a" stroke-width="1.6"/>
<rect x="957.7" y="261.5" width="10.0" height="10.0" fill="none" stroke="#ee3a3a" stroke-width="1.6"/>
<rect x="965.3" y="255.2" width="10.0" height="10.0" fill="none" stroke="#ee3a3a" stroke-width="1.6"/>
<rect x="972.9" y="249.1" width="10.0" height="10.0" fill="none" stroke="#ee3a3a" stroke-width="1.6"/>
<rect x="980.5" y="243.0" width="10.0" height="10.0" fill="none" stroke="#ee3a3a" stroke-width="1.6"/>
<rect x="988.2" y="237.0" width="10.0" height="10.0" fill="none" stroke="#ee3a3a" stroke-width="1.6"/>
<rect x="995.8" y="230.8" width="10.0" height="10.0" fill="none" stroke="#ee3a3a" stroke-width="1.6"/>
<rect x="1003.4" y="224.4" width="10.0" height="10.0" fill="none" stroke="#ee3a3a" stroke-width="1.6"/>
<rect x="1011.0" y="218.0" width="10.0" height="10.0" fill="none" stroke="#ee3a3a" stroke-width="1.6"/>
<rect x="1018.6" y="211.5" width="10.0" height="10.0" fill="none" stroke="#ee3a3a" stroke-width="1.6"/>
<rect x="1026.2" y="205.1" width="10.0" height="10.0" fill="none" stroke="#ee3a3a" stroke-width="1.6"/>
<rect x="1033.8" y="198.5" width="10.0" height="10.0" fill="none" stroke="#ee3a3a" stroke-width="1.6"/>
<rect x="1041.4" y="191.8" width="10.0" height="10.0" fill="none" stroke="#ee3a3a" stroke-width="1.6"/>
<rect x="1049.1" y="184.9" width="10.0" height="10.0" fill="none" stroke="#ee3a3a" stroke-width="1.6"/>
<rect x="1056.7" y="177.8" width="10.0" height="10.0" fill="none" stroke="#ee3a3a" stroke-width="1.6"/>
<rect x="1064.3" y="170.6" width="10.0" height="10.0" fill="none" stroke="#ee3a3a" stroke-width="1.6"/>
<rect x="1071.9" y="163.5" width="10.0" height="10.0" fill="none" stroke="#ee3a3a" stroke-width="1.6"/>
<rect x="1080.8" y="155.2" width="10.0" height="10.0" fill="none" stroke="#ee3a3a" stroke-width="1.6"/>
<rect x="1084.3" y="151.4" width="10.0" height="10.0" fill="none" stroke="#ee3a3a" stroke-width="1.6"/>
<rect x="1087.5" y="149.0" width="10.0" height="10.0" fill="none" stroke="#ee3a3a" stroke-width="1.6"/>
<rect x="1125.9" y="111.1" width="10.0" height="10.0" fill="none" stroke="#ee3a3a" stroke-width="1.6"/>
<rect x="1149.3" y="88.1" width="10.0" height="10.0" fill="none" stroke="#ee3a3a" stroke-width="1.6"/>
<rect x="1174.4" y="62.7" width="10.0" height="10.0" fill="none" stroke="#ee3a3a" stroke-width="1.6"/>
<rect x="1202.2" y="35.5" width="10.0" height="10.0" fill="none" stroke="#ee3a3a" stroke-width="1.6"/>
<circle cx="774.9" cy="410.0" r="6.1" fill="none" stroke="#4d4df0" stroke-width="1.5"/>
<circle cx="781.4" cy="407.4" r="6.1" fill="none" stroke="#4d4df0" stroke-width="1.5"/>
<circle cx="788.0" cy="404.8" r="6.1" fill="none" stroke="#4d4df0" stroke-width="1.5"/>
<circle cx="794.8" cy="402.1" r="6.1" fill="none" stroke="#4d4df0" stroke-width="1.5"/>
<circle cx="801.7" cy="399.4" r="6.1" fill="none" stroke="#4d4df0" stroke-width="1.5"/>
<circle cx="808.8" cy="396.5" r="6.1" fill="none" stroke="#4d4df0" stroke-width="1.5"/>
<circle cx="816.1" cy="393.4" r="6.1" fill="none" stroke="#4d4df0" stroke-width="1.5"/>
<circle cx="823.6" cy="389.9" r="6.1" fill="none" stroke="#4d4df0" stroke-width="1.5"/>
<circle cx="831.2" cy="385.8" r="6.1" fill="none" stroke="#4d4df0" stroke-width="1.5"/>
<circle cx="839.0" cy="381.2" r="6.1" fill="none" stroke="#4d4df0" stroke-width="1.5"/>
<circle cx="846.9" cy="376.1" r="6.1" fill="none" stroke="#4d4df0" stroke-width="1.5"/>
<circle cx="855.1" cy="370.8" r="6.1" fill="none" stroke="#4d4df0" stroke-width="1.5"/>
<circle cx="863.5" cy="365.3" r="6.1" fill="none" stroke="#4d4df0" stroke-width="1.5"/>
<circle cx="872.0" cy="359.9" r="6.1" fill="none" stroke="#4d4df0" stroke-width="1.5"/>
<circle cx="880.8" cy="354.5" r="6.1" fill="none" stroke="#4d4df0" stroke-width="1.5"/>
<circle cx="889.7" cy="349.0" r="6.1" fill="none" stroke="#4d4df0" stroke-width="1.5"/>
<circle cx="898.9" cy="343.3" r="6.1" fill="none" stroke="#4d4df0" stroke-width="1.5"/>
<circle cx="908.3" cy="337.2" r="6.1" fill="none" stroke="#4d4df0" stroke-width="1.5"/>
<circle cx="917.9" cy="330.5" r="6.1" fill="none" stroke="#4d4df0" stroke-width="1.5"/>
<circle cx="927.7" cy="323.0" r="6.1" fill="none" stroke="#4d4df0" stroke-width="1.5"/>
<circle cx="937.8" cy="314.9" r="6.1" fill="none" stroke="#4d4df0" stroke-width="1.5"/>
<circle cx="948.1" cy="306.6" r="6.1" fill="none" stroke="#4d4df0" stroke-width="1.5"/>
<circle cx="958.6" cy="298.1" r="6.1" fill="none" stroke="#4d4df0" stroke-width="1.5"/>
<circle cx="969.4" cy="289.4" r="6.1" fill="none" stroke="#4d4df0" stroke-width="1.5"/>
<circle cx="980.5" cy="280.2" r="6.1" fill="none" stroke="#4d4df0" stroke-width="1.5"/>
<circle cx="991.8" cy="270.6" r="6.1" fill="none" stroke="#4d4df0" stroke-width="1.5"/>
<circle cx="1003.4" cy="260.9" r="6.1" fill="none" stroke="#4d4df0" stroke-width="1.5"/>
<circle cx="1015.2" cy="251.3" r="6.1" fill="none" stroke="#4d4df0" stroke-width="1.5"/>
<circle cx="1027.3" cy="241.5" r="6.1" fill="none" stroke="#4d4df0" stroke-width="1.5"/>
<circle cx="1039.7" cy="231.5" r="6.1" fill="none" stroke="#4d4df0" stroke-width="1.5"/>
<circle cx="1052.4" cy="220.7" r="6.1" fill="none" stroke="#4d4df0" stroke-width="1.5"/>
<circle cx="1065.4" cy="208.8" r="6.1" fill="none" stroke="#4d4df0" stroke-width="1.5"/>
<circle cx="1078.7" cy="196.5" r="6.1" fill="none" stroke="#4d4df0" stroke-width="1.5"/>
<circle cx="1092.3" cy="184.3" r="6.1" fill="none" stroke="#4d4df0" stroke-width="1.5"/>
<circle cx="921.9" cy="326.4" r="6.1" fill="none" stroke="#4d4df0" stroke-width="1.5"/>
<circle cx="952.7" cy="301.7" r="6.1" fill="none" stroke="#4d4df0" stroke-width="1.5"/>
<circle cx="953.2" cy="302.5" r="6.1" fill="none" stroke="#4d4df0" stroke-width="1.5"/>
<circle cx="1083.7" cy="190.2" r="6.1" fill="none" stroke="#4d4df0" stroke-width="1.5"/>
<circle cx="1086.3" cy="188.5" r="6.1" fill="none" stroke="#4d4df0" stroke-width="1.5"/>
<circle cx="1088.1" cy="187.6" r="6.1" fill="none" stroke="#4d4df0" stroke-width="1.5"/>
<circle cx="1113.6" cy="166.0" r="6.1" fill="none" stroke="#4d4df0" stroke-width="1.5"/>
<circle cx="1124.0" cy="155.8" r="6.1" fill="none" stroke="#4d4df0" stroke-width="1.5"/>
<circle cx="1135.4" cy="146.2" r="6.1" fill="none" stroke="#4d4df0" stroke-width="1.5"/>
<circle cx="1147.2" cy="134.2" r="6.1" fill="none" stroke="#4d4df0" stroke-width="1.5"/>
<circle cx="1159.3" cy="123.7" r="6.1" fill="none" stroke="#4d4df0" stroke-width="1.5"/>
<circle cx="1171.8" cy="111.4" r="6.1" fill="none" stroke="#4d4df0" stroke-width="1.5"/>
<circle cx="1184.4" cy="100.1" r="6.1" fill="none" stroke="#4d4df0" stroke-width="1.5"/>
<circle cx="1198.6" cy="85.2" r="6.1" fill="none" stroke="#4d4df0" stroke-width="1.5"/>
<circle cx="1212.7" cy="72.0" r="6.1" fill="none" stroke="#4d4df0" stroke-width="1.5"/>
<circle cx="1226.9" cy="58.3" r="6.1" fill="none" stroke="#4d4df0" stroke-width="1.5"/>
<circle cx="1241.6" cy="43.7" r="6.1" fill="none" stroke="#4d4df0" stroke-width="1.5"/>
<circle cx="1256.5" cy="28.6" r="6.1" fill="none" stroke="#4d4df0" stroke-width="1.5"/>
<circle cx="1184.8" cy="43.7" r="6.1" fill="none" stroke="#4d4df0" stroke-width="1.5"/>
<path d="M773.0,415.3L779.6,427.2L766.4,427.2Z" fill="none" stroke="#44dd44" stroke-width="1.7" stroke-linejoin="miter"/>
<path d="M774.9,414.6L781.5,426.5L768.3,426.5Z" fill="none" stroke="#44dd44" stroke-width="1.7" stroke-linejoin="miter"/>
<path d="M776.9,413.9L783.5,425.8L770.3,425.8Z" fill="none" stroke="#44dd44" stroke-width="1.7" stroke-linejoin="miter"/>
<path d="M778.9,413.2L785.5,425.1L772.3,425.1Z" fill="none" stroke="#44dd44" stroke-width="1.7" stroke-linejoin="miter"/>
<path d="M780.9,412.5L787.5,424.4L774.3,424.4Z" fill="none" stroke="#44dd44" stroke-width="1.7" stroke-linejoin="miter"/>
<path d="M783.0,411.8L789.6,423.6L776.4,423.6Z" fill="none" stroke="#44dd44" stroke-width="1.7" stroke-linejoin="miter"/>
<path d="M785.1,411.0L791.7,422.9L778.5,422.9Z" fill="none" stroke="#44dd44" stroke-width="1.7" stroke-linejoin="miter"/>
<path d="M787.2,410.3L793.8,422.2L780.6,422.2Z" fill="none" stroke="#44dd44" stroke-width="1.7" stroke-linejoin="miter"/>
<path d="M789.3,409.5L795.9,421.4L782.7,421.4Z" fill="none" stroke="#44dd44" stroke-width="1.7" stroke-linejoin="miter"/>
<path d="M791.5,408.7L798.1,420.6L784.9,420.6Z" fill="none" stroke="#44dd44" stroke-width="1.7" stroke-linejoin="miter"/>
<path d="M793.7,407.9L800.3,419.8L787.1,419.8Z" fill="none" stroke="#44dd44" stroke-width="1.7" stroke-linejoin="miter"/>
<path d="M796.0,407.0L802.6,418.9L789.4,418.9Z" fill="none" stroke="#44dd44" stroke-width="1.7" stroke-linejoin="miter"/>
<path d="M798.3,406.2L804.9,418.0L791.7,418.0Z" fill="none" stroke="#44dd44" stroke-width="1.7" stroke-linejoin="miter"/>
<path d="M800.6,405.3L807.2,417.1L794.0,417.1Z" fill="none" stroke="#44dd44" stroke-width="1.7" stroke-linejoin="miter"/>
<path d="M802.9,404.3L809.5,416.2L796.3,416.2Z" fill="none" stroke="#44dd44" stroke-width="1.7" stroke-linejoin="miter"/>
<path d="M805.3,403.4L811.9,415.3L798.7,415.3Z" fill="none" stroke="#44dd44" stroke-width="1.7" stroke-linejoin="miter"/>
<path d="M807.8,402.4L814.4,414.3L801.2,414.3Z" fill="none" stroke="#44dd44" stroke-width="1.7" stroke-linejoin="miter"/>
<path d="M810.2,401.4L816.8,413.3L803.6,413.3Z" fill="none" stroke="#44dd44" stroke-width="1.7" stroke-linejoin="miter"/>
<path d="M812.7,400.4L819.3,412.3L806.1,412.3Z" fill="none" stroke="#44dd44" stroke-width="1.7" stroke-linejoin="miter"/>
<path d="M815.3,399.2L821.9,411.1L808.7,411.1Z" fill="none" stroke="#44dd44" stroke-width="1.7" stroke-linejoin="miter"/>
<path d="M817.9,397.9L824.5,409.8L811.3,409.8Z" fill="none" stroke="#44dd44" stroke-width="1.7" stroke-linejoin="miter"/>
<path d="M820.5,396.5L827.1,408.4L813.9,408.4Z" fill="none" stroke="#44dd44" stroke-width="1.7" stroke-linejoin="miter"/>
<path d="M823.2,394.9L829.8,406.8L816.6,406.8Z" fill="none" stroke="#44dd44" stroke-width="1.7" stroke-linejoin="miter"/>
<path d="M825.9,393.2L832.5,405.1L819.3,405.1Z" fill="none" stroke="#44dd44" stroke-width="1.7" stroke-linejoin="miter"/>
<path d="M828.7,391.5L835.3,403.4L822.1,403.4Z" fill="none" stroke="#44dd44" stroke-width="1.7" stroke-linejoin="miter"/>
<path d="M831.5,389.7L838.1,401.5L824.9,401.5Z" fill="none" stroke="#44dd44" stroke-width="1.7" stroke-linejoin="miter"/>
<path d="M834.4,387.8L841.0,399.7L827.8,399.7Z" fill="none" stroke="#44dd44" stroke-width="1.7" stroke-linejoin="miter"/>
<path d="M837.3,386.0L843.9,397.8L830.7,397.8Z" fill="none" stroke="#44dd44" stroke-width="1.7" stroke-linejoin="miter"/>
<path d="M840.3,384.1L846.9,396.0L833.7,396.0Z" fill="none" stroke="#44dd44" stroke-width="1.7" stroke-linejoin="miter"/>
<path d="M843.3,382.3L849.9,394.2L836.7,394.2Z" fill="none" stroke="#44dd44" stroke-width="1.7" stroke-linejoin="miter"/>
<path d="M846.3,380.6L852.9,392.5L839.7,392.5Z" fill="none" stroke="#44dd44" stroke-width="1.7" stroke-linejoin="miter"/>
<path d="M849.5,378.9L856.1,390.8L842.9,390.8Z" fill="none" stroke="#44dd44" stroke-width="1.7" stroke-linejoin="miter"/>
<path d="M852.7,377.2L859.3,389.1L846.1,389.1Z" fill="none" stroke="#44dd44" stroke-width="1.7" stroke-linejoin="miter"/>
<path d="M855.9,375.5L862.5,387.4L849.3,387.4Z" fill="none" stroke="#44dd44" stroke-width="1.7" stroke-linejoin="miter"/>
<path d="M859.2,373.7L865.8,385.6L852.6,385.6Z" fill="none" stroke="#44dd44" stroke-width="1.7" stroke-linejoin="miter"/>
<path d="M862.6,371.8L869.2,383.7L856.0,383.7Z" fill="none" stroke="#44dd44" stroke-width="1.7" stroke-linejoin="miter"/>
<path d="M866.0,369.8L872.6,381.7L859.4,381.7Z" fill="none" stroke="#44dd44" stroke-width="1.7" stroke-linejoin="miter"/>
<path d="M869.5,367.7L876.1,379.6L862.9,379.6Z" fill="none" stroke="#44dd44" stroke-width="1.7" stroke-linejoin="miter"/>
<path d="M873.0,365.6L879.6,377.5L866.4,377.5Z" fill="none" stroke="#44dd44" stroke-width="1.7" stroke-linejoin="miter"/>
<path d="M876.7,363.4L883.3,375.3L870.1,375.3Z" fill="none" stroke="#44dd44" stroke-width="1.7" stroke-linejoin="miter"/>
<path d="M880.4,361.1L887.0,373.0L873.8,373.0Z" fill="none" stroke="#44dd44" stroke-width="1.7" stroke-linejoin="miter"/>
<path d="M884.1,358.8L890.7,370.7L877.5,370.7Z" fill="none" stroke="#44dd44" stroke-width="1.7" stroke-linejoin="miter"/>
<path d="M888.0,356.5L894.6,368.4L881.4,368.4Z" fill="none" stroke="#44dd44" stroke-width="1.7" stroke-linejoin="miter"/>
<path d="M891.9,354.1L898.5,366.0L885.3,366.0Z" fill="none" stroke="#44dd44" stroke-width="1.7" stroke-linejoin="miter"/>
<path d="M895.9,351.8L902.5,363.7L889.3,363.7Z" fill="none" stroke="#44dd44" stroke-width="1.7" stroke-linejoin="miter"/>
<path d="M900.0,349.4L906.6,361.3L893.4,361.3Z" fill="none" stroke="#44dd44" stroke-width="1.7" stroke-linejoin="miter"/>
<path d="M904.2,347.0L910.8,358.9L897.6,358.9Z" fill="none" stroke="#44dd44" stroke-width="1.7" stroke-linejoin="miter"/>
<path d="M908.4,344.5L915.0,356.4L901.8,356.4Z" fill="none" stroke="#44dd44" stroke-width="1.7" stroke-linejoin="miter"/>
<path d="M912.8,341.8L919.4,353.6L906.2,353.6Z" fill="none" stroke="#44dd44" stroke-width="1.7" stroke-linejoin="miter"/>
<path d="M917.2,338.8L923.8,350.7L910.6,350.7Z" fill="none" stroke="#44dd44" stroke-width="1.7" stroke-linejoin="miter"/>
<path d="M921.7,335.7L928.3,347.6L915.1,347.6Z" fill="none" stroke="#44dd44" stroke-width="1.7" stroke-linejoin="miter"/>
<path d="M926.4,332.5L933.0,344.4L919.8,344.4Z" fill="none" stroke="#44dd44" stroke-width="1.7" stroke-linejoin="miter"/>
<path d="M931.1,329.3L937.7,341.1L924.5,341.1Z" fill="none" stroke="#44dd44" stroke-width="1.7" stroke-linejoin="miter"/>
<path d="M935.9,326.0L942.5,337.9L929.3,337.9Z" fill="none" stroke="#44dd44" stroke-width="1.7" stroke-linejoin="miter"/>
<path d="M940.9,322.7L947.5,334.6L934.3,334.6Z" fill="none" stroke="#44dd44" stroke-width="1.7" stroke-linejoin="miter"/>
<path d="M946.0,319.4L952.6,331.2L939.4,331.2Z" fill="none" stroke="#44dd44" stroke-width="1.7" stroke-linejoin="miter"/>
<path d="M951.1,316.0L957.7,327.9L944.5,327.9Z" fill="none" stroke="#44dd44" stroke-width="1.7" stroke-linejoin="miter"/>
<path d="M956.4,312.5L963.0,324.4L949.8,324.4Z" fill="none" stroke="#44dd44" stroke-width="1.7" stroke-linejoin="miter"/>
<path d="M961.9,309.0L968.5,320.8L955.3,320.8Z" fill="none" stroke="#44dd44" stroke-width="1.7" stroke-linejoin="miter"/>
<path d="M967.4,305.1L974.0,317.0L960.8,317.0Z" fill="none" stroke="#44dd44" stroke-width="1.7" stroke-linejoin="miter"/>
<path d="M973.1,301.0L979.7,312.9L966.5,312.9Z" fill="none" stroke="#44dd44" stroke-width="1.7" stroke-linejoin="miter"/>
<path d="M978.9,296.6L985.5,308.5L972.3,308.5Z" fill="none" stroke="#44dd44" stroke-width="1.7" stroke-linejoin="miter"/>
<path d="M984.9,292.0L991.5,303.9L978.3,303.9Z" fill="none" stroke="#44dd44" stroke-width="1.7" stroke-linejoin="miter"/>
<path d="M991.0,287.1L997.6,299.0L984.4,299.0Z" fill="none" stroke="#44dd44" stroke-width="1.7" stroke-linejoin="miter"/>
<path d="M997.3,282.1L1003.9,294.0L990.7,294.0Z" fill="none" stroke="#44dd44" stroke-width="1.7" stroke-linejoin="miter"/>
<path d="M1003.8,276.8L1010.4,288.7L997.2,288.7Z" fill="none" stroke="#44dd44" stroke-width="1.7" stroke-linejoin="miter"/>
<path d="M1010.4,271.4L1017.0,283.3L1003.8,283.3Z" fill="none" stroke="#44dd44" stroke-width="1.7" stroke-linejoin="miter"/>
<path d="M1017.1,265.9L1023.7,277.8L1010.5,277.8Z" fill="none" stroke="#44dd44" stroke-width="1.7" stroke-linejoin="miter"/>
<path d="M1024.1,260.3L1030.7,272.2L1017.5,272.2Z" fill="none" stroke="#44dd44" stroke-width="1.7" stroke-linejoin="miter"/>
<path d="M1031.3,254.7L1037.9,266.6L1024.7,266.6Z" fill="none" stroke="#44dd44" stroke-width="1.7" stroke-linejoin="miter"/>
<path d="M1038.6,248.9L1045.2,260.7L1032.0,260.7Z" fill="none" stroke="#44dd44" stroke-width="1.7" stroke-linejoin="miter"/>
<path d="M1046.2,242.8L1052.8,254.7L1039.6,254.7Z" fill="none" stroke="#44dd44" stroke-width="1.7" stroke-linejoin="miter"/>
<path d="M1053.9,236.5L1060.5,248.4L1047.3,248.4Z" fill="none" stroke="#44dd44" stroke-width="1.7" stroke-linejoin="miter"/>
<path d="M1061.9,229.9L1068.5,241.8L1055.3,241.8Z" fill="none" stroke="#44dd44" stroke-width="1.7" stroke-linejoin="miter"/>
<path d="M1070.1,222.9L1076.7,234.8L1063.5,234.8Z" fill="none" stroke="#44dd44" stroke-width="1.7" stroke-linejoin="miter"/>
<path d="M1078.6,215.7L1085.2,227.6L1072.0,227.6Z" fill="none" stroke="#44dd44" stroke-width="1.7" stroke-linejoin="miter"/>
<path d="M1087.3,208.1L1093.9,220.0L1080.7,220.0Z" fill="none" stroke="#44dd44" stroke-width="1.7" stroke-linejoin="miter"/>
<path d="M1113.6,184.2L1120.2,196.1L1107.0,196.1Z" fill="none" stroke="#44dd44" stroke-width="1.7" stroke-linejoin="miter"/>
<path d="M1136.2,166.1L1142.8,178.0L1129.6,178.0Z" fill="none" stroke="#44dd44" stroke-width="1.7" stroke-linejoin="miter"/>
<path d="M1160.7,143.9L1167.3,155.8L1154.1,155.8Z" fill="none" stroke="#44dd44" stroke-width="1.7" stroke-linejoin="miter"/>
<path d="M1186.7,120.6L1193.3,132.5L1180.1,132.5Z" fill="none" stroke="#44dd44" stroke-width="1.7" stroke-linejoin="miter"/>
<path d="M1212.7,94.6L1219.3,106.5L1206.1,106.5Z" fill="none" stroke="#44dd44" stroke-width="1.7" stroke-linejoin="miter"/>
<path d="M1242.5,68.7L1249.1,80.5L1235.9,80.5Z" fill="none" stroke="#44dd44" stroke-width="1.7" stroke-linejoin="miter"/>
<path d="M770.3,417.3L777.1,424.1L770.3,430.9L763.5,424.1Z" fill="none" stroke="#2a2a2a" stroke-width="1.8"/>
<path d="M774.1,415.8L780.9,422.6L774.1,429.4L767.3,422.6Z" fill="none" stroke="#2a2a2a" stroke-width="1.8"/>
<path d="M778.0,414.4L784.8,421.2L778.0,428.0L771.2,421.2Z" fill="none" stroke="#2a2a2a" stroke-width="1.8"/>
<path d="M782.1,413.0L788.9,419.8L782.1,426.6L775.3,419.8Z" fill="none" stroke="#2a2a2a" stroke-width="1.8"/>
<path d="M786.2,411.6L793.0,418.4L786.2,425.2L779.4,418.4Z" fill="none" stroke="#2a2a2a" stroke-width="1.8"/>
<path d="M790.5,410.1L797.3,416.9L790.5,423.7L783.7,416.9Z" fill="none" stroke="#2a2a2a" stroke-width="1.8"/>
<path d="M794.9,408.4L801.7,415.2L794.9,422.0L788.1,415.2Z" fill="none" stroke="#2a2a2a" stroke-width="1.8"/>
<path d="M799.4,406.7L806.2,413.5L799.4,420.3L792.6,413.5Z" fill="none" stroke="#2a2a2a" stroke-width="1.8"/>
<path d="M804.1,404.8L810.9,411.6L804.1,418.4L797.3,411.6Z" fill="none" stroke="#2a2a2a" stroke-width="1.8"/>
<path d="M808.9,402.9L815.7,409.7L808.9,416.5L802.1,409.7Z" fill="none" stroke="#2a2a2a" stroke-width="1.8"/>
<path d="M813.9,400.8L820.7,407.6L813.9,414.4L807.1,407.6Z" fill="none" stroke="#2a2a2a" stroke-width="1.8"/>
<path d="M819.1,398.3L825.9,405.1L819.1,411.9L812.3,405.1Z" fill="none" stroke="#2a2a2a" stroke-width="1.8"/>
<path d="M824.4,395.2L831.2,402.0L824.4,408.8L817.6,402.0Z" fill="none" stroke="#2a2a2a" stroke-width="1.8"/>
<path d="M829.9,391.7L836.7,398.5L829.9,405.3L823.1,398.5Z" fill="none" stroke="#2a2a2a" stroke-width="1.8"/>
<path d="M835.5,388.0L842.3,394.8L835.5,401.6L828.7,394.8Z" fill="none" stroke="#2a2a2a" stroke-width="1.8"/>
<path d="M841.4,384.4L848.2,391.2L841.4,398.0L834.6,391.2Z" fill="none" stroke="#2a2a2a" stroke-width="1.8"/>
<path d="M847.5,380.9L854.3,387.7L847.5,394.5L840.7,387.7Z" fill="none" stroke="#2a2a2a" stroke-width="1.8"/>
<path d="M853.8,377.6L860.6,384.4L853.8,391.2L847.0,384.4Z" fill="none" stroke="#2a2a2a" stroke-width="1.8"/>
<path d="M860.3,374.0L867.1,380.8L860.3,387.6L853.5,380.8Z" fill="none" stroke="#2a2a2a" stroke-width="1.8"/>
<path d="M867.1,370.1L873.9,376.9L867.1,383.7L860.3,376.9Z" fill="none" stroke="#2a2a2a" stroke-width="1.8"/>
<path d="M874.1,365.9L880.9,372.7L874.1,379.5L867.3,372.7Z" fill="none" stroke="#2a2a2a" stroke-width="1.8"/>
<path d="M881.4,361.5L888.2,368.3L881.4,375.1L874.6,368.3Z" fill="none" stroke="#2a2a2a" stroke-width="1.8"/>
<path d="M889.0,356.9L895.8,363.7L889.0,370.5L882.2,363.7Z" fill="none" stroke="#2a2a2a" stroke-width="1.8"/>
<path d="M896.8,352.2L903.6,359.0L896.8,365.8L890.0,359.0Z" fill="none" stroke="#2a2a2a" stroke-width="1.8"/>
<path d="M905.0,347.5L911.8,354.3L905.0,361.1L898.2,354.3Z" fill="none" stroke="#2a2a2a" stroke-width="1.8"/>
<path d="M913.6,342.2L920.4,349.0L913.6,355.8L906.8,349.0Z" fill="none" stroke="#2a2a2a" stroke-width="1.8"/>
<path d="M922.5,336.1L929.3,342.9L922.5,349.7L915.7,342.9Z" fill="none" stroke="#2a2a2a" stroke-width="1.8"/>
<path d="M931.8,329.7L938.6,336.5L931.8,343.3L925.0,336.5Z" fill="none" stroke="#2a2a2a" stroke-width="1.8"/>
<path d="M941.5,323.3L948.3,330.1L941.5,336.9L934.7,330.1Z" fill="none" stroke="#2a2a2a" stroke-width="1.8"/>
<path d="M951.7,316.6L958.5,323.4L951.7,330.2L944.9,323.4Z" fill="none" stroke="#2a2a2a" stroke-width="1.8"/>
<path d="M962.3,309.6L969.1,316.4L962.3,323.2L955.5,316.4Z" fill="none" stroke="#2a2a2a" stroke-width="1.8"/>
<path d="M973.4,301.7L980.2,308.5L973.4,315.3L966.6,308.5Z" fill="none" stroke="#2a2a2a" stroke-width="1.8"/>
<path d="M985.1,292.8L991.9,299.6L985.1,306.4L978.3,299.6Z" fill="none" stroke="#2a2a2a" stroke-width="1.8"/>
<path d="M997.4,283.0L1004.2,289.8L997.4,296.6L990.6,289.8Z" fill="none" stroke="#2a2a2a" stroke-width="1.8"/>
<path d="M1010.3,272.5L1017.1,279.3L1010.3,286.1L1003.5,279.3Z" fill="none" stroke="#2a2a2a" stroke-width="1.8"/>
<path d="M1023.8,261.5L1030.6,268.3L1023.8,275.1L1017.0,268.3Z" fill="none" stroke="#2a2a2a" stroke-width="1.8"/>
<path d="M1038.1,250.2L1044.9,257.0L1038.1,263.8L1031.3,257.0Z" fill="none" stroke="#2a2a2a" stroke-width="1.8"/>
<path d="M1053.2,238.1L1060.0,244.9L1053.2,251.7L1046.4,244.9Z" fill="none" stroke="#2a2a2a" stroke-width="1.8"/>
<path d="M1069.1,224.8L1075.9,231.6L1069.1,238.4L1062.3,231.6Z" fill="none" stroke="#2a2a2a" stroke-width="1.8"/>
<path d="M1086.0,210.2L1092.8,217.0L1086.0,223.8L1079.2,217.0Z" fill="none" stroke="#2a2a2a" stroke-width="1.8"/>
<path d="M976.9,313.2L983.7,320.0L976.9,326.8L970.1,320.0Z" fill="none" stroke="#2a2a2a" stroke-width="1.8"/>
<path d="M1093.4,202.7L1100.2,209.5L1093.4,216.3L1086.6,209.5Z" fill="none" stroke="#2a2a2a" stroke-width="1.8"/>
<path d="M1128.8,165.9L1135.6,172.7L1128.8,179.5L1122.0,172.7Z" fill="none" stroke="#2a2a2a" stroke-width="1.8"/>
<path d="M1153.9,144.6L1160.7,151.4L1153.9,158.2L1147.1,151.4Z" fill="none" stroke="#2a2a2a" stroke-width="1.8"/>
<path d="M1179.3,121.8L1186.1,128.6L1179.3,135.4L1172.5,128.6Z" fill="none" stroke="#2a2a2a" stroke-width="1.8"/>
<path d="M1206.9,96.8L1213.7,103.6L1206.9,110.4L1200.1,103.6Z" fill="none" stroke="#2a2a2a" stroke-width="1.8"/>
<path d="M1235.2,70.2L1242.0,77.0L1235.2,83.8L1228.4,77.0Z" fill="none" stroke="#2a2a2a" stroke-width="1.8"/>
<path d="M1235.9,69.3L1242.7,76.1L1235.9,82.9L1229.1,76.1Z" fill="none" stroke="#2a2a2a" stroke-width="1.8"/>
</g>
<line x1="977" y1="224.2" x2="1153.1" y2="53.7" stroke="#333" stroke-width="1.9" stroke-dasharray="3.4 3.2"/>
<line x1="994" y1="331.3" x2="1190.1" y2="157.7" stroke="#333" stroke-width="1.9" stroke-dasharray="3.4 3.2"/>
<rect x="103.5" y="17.1" width="496.9" height="496.69999999999993" fill="none" stroke="#383838" stroke-width="2"/>
<line x1="186.32" y1="513.8" x2="186.32" y2="507.59999999999997" stroke="#383838" stroke-width="2"/>
<line x1="186.32" y1="17.1" x2="186.32" y2="23.3" stroke="#383838" stroke-width="2"/>
<line x1="269.13" y1="513.8" x2="269.13" y2="501.79999999999995" stroke="#383838" stroke-width="2"/>
<line x1="269.13" y1="17.1" x2="269.13" y2="29.1" stroke="#383838" stroke-width="2"/>
<line x1="351.95" y1="513.8" x2="351.95" y2="507.59999999999997" stroke="#383838" stroke-width="2"/>
<line x1="351.95" y1="17.1" x2="351.95" y2="23.3" stroke="#383838" stroke-width="2"/>
<line x1="434.77" y1="513.8" x2="434.77" y2="501.79999999999995" stroke="#383838" stroke-width="2"/>
<line x1="434.77" y1="17.1" x2="434.77" y2="29.1" stroke="#383838" stroke-width="2"/>
<line x1="517.58" y1="513.8" x2="517.58" y2="507.59999999999997" stroke="#383838" stroke-width="2"/>
<line x1="517.58" y1="17.1" x2="517.58" y2="23.3" stroke="#383838" stroke-width="2"/>
<line x1="103.5" y1="488.88" x2="109.7" y2="488.88" stroke="#383838" stroke-width="2"/>
<line x1="600.4" y1="488.88" x2="594.1999999999999" y2="488.88" stroke="#383838" stroke-width="2"/>
<line x1="103.5" y1="474.30" x2="109.7" y2="474.30" stroke="#383838" stroke-width="2"/>
<line x1="600.4" y1="474.30" x2="594.1999999999999" y2="474.30" stroke="#383838" stroke-width="2"/>
<line x1="103.5" y1="463.96" x2="109.7" y2="463.96" stroke="#383838" stroke-width="2"/>
<line x1="600.4" y1="463.96" x2="594.1999999999999" y2="463.96" stroke="#383838" stroke-width="2"/>
<line x1="103.5" y1="455.94" x2="109.7" y2="455.94" stroke="#383838" stroke-width="2"/>
<line x1="600.4" y1="455.94" x2="594.1999999999999" y2="455.94" stroke="#383838" stroke-width="2"/>
<line x1="103.5" y1="449.38" x2="109.7" y2="449.38" stroke="#383838" stroke-width="2"/>
<line x1="600.4" y1="449.38" x2="594.1999999999999" y2="449.38" stroke="#383838" stroke-width="2"/>
<line x1="103.5" y1="443.84" x2="109.7" y2="443.84" stroke="#383838" stroke-width="2"/>
<line x1="600.4" y1="443.84" x2="594.1999999999999" y2="443.84" stroke="#383838" stroke-width="2"/>
<line x1="103.5" y1="439.04" x2="109.7" y2="439.04" stroke="#383838" stroke-width="2"/>
<line x1="600.4" y1="439.04" x2="594.1999999999999" y2="439.04" stroke="#383838" stroke-width="2"/>
<line x1="103.5" y1="434.80" x2="109.7" y2="434.80" stroke="#383838" stroke-width="2"/>
<line x1="600.4" y1="434.80" x2="594.1999999999999" y2="434.80" stroke="#383838" stroke-width="2"/>
<line x1="103.5" y1="431.02" x2="115.5" y2="431.02" stroke="#383838" stroke-width="2"/>
<line x1="600.4" y1="431.02" x2="588.4" y2="431.02" stroke="#383838" stroke-width="2"/>
<line x1="103.5" y1="406.10" x2="109.7" y2="406.10" stroke="#383838" stroke-width="2"/>
<line x1="600.4" y1="406.10" x2="594.1999999999999" y2="406.10" stroke="#383838" stroke-width="2"/>
<line x1="103.5" y1="391.52" x2="109.7" y2="391.52" stroke="#383838" stroke-width="2"/>
<line x1="600.4" y1="391.52" x2="594.1999999999999" y2="391.52" stroke="#383838" stroke-width="2"/>
<line x1="103.5" y1="381.18" x2="109.7" y2="381.18" stroke="#383838" stroke-width="2"/>
<line x1="600.4" y1="381.18" x2="594.1999999999999" y2="381.18" stroke="#383838" stroke-width="2"/>
<line x1="103.5" y1="373.15" x2="109.7" y2="373.15" stroke="#383838" stroke-width="2"/>
<line x1="600.4" y1="373.15" x2="594.1999999999999" y2="373.15" stroke="#383838" stroke-width="2"/>
<line x1="103.5" y1="366.60" x2="109.7" y2="366.60" stroke="#383838" stroke-width="2"/>
<line x1="600.4" y1="366.60" x2="594.1999999999999" y2="366.60" stroke="#383838" stroke-width="2"/>
<line x1="103.5" y1="361.06" x2="109.7" y2="361.06" stroke="#383838" stroke-width="2"/>
<line x1="600.4" y1="361.06" x2="594.1999999999999" y2="361.06" stroke="#383838" stroke-width="2"/>
<line x1="103.5" y1="356.26" x2="109.7" y2="356.26" stroke="#383838" stroke-width="2"/>
<line x1="600.4" y1="356.26" x2="594.1999999999999" y2="356.26" stroke="#383838" stroke-width="2"/>
<line x1="103.5" y1="352.02" x2="109.7" y2="352.02" stroke="#383838" stroke-width="2"/>
<line x1="600.4" y1="352.02" x2="594.1999999999999" y2="352.02" stroke="#383838" stroke-width="2"/>
<line x1="103.5" y1="348.23" x2="115.5" y2="348.23" stroke="#383838" stroke-width="2"/>
<line x1="600.4" y1="348.23" x2="588.4" y2="348.23" stroke="#383838" stroke-width="2"/>
<line x1="103.5" y1="323.31" x2="109.7" y2="323.31" stroke="#383838" stroke-width="2"/>
<line x1="600.4" y1="323.31" x2="594.1999999999999" y2="323.31" stroke="#383838" stroke-width="2"/>
<line x1="103.5" y1="308.74" x2="109.7" y2="308.74" stroke="#383838" stroke-width="2"/>
<line x1="600.4" y1="308.74" x2="594.1999999999999" y2="308.74" stroke="#383838" stroke-width="2"/>
<line x1="103.5" y1="298.39" x2="109.7" y2="298.39" stroke="#383838" stroke-width="2"/>
<line x1="600.4" y1="298.39" x2="594.1999999999999" y2="298.39" stroke="#383838" stroke-width="2"/>
<line x1="103.5" y1="290.37" x2="109.7" y2="290.37" stroke="#383838" stroke-width="2"/>
<line x1="600.4" y1="290.37" x2="594.1999999999999" y2="290.37" stroke="#383838" stroke-width="2"/>
<line x1="103.5" y1="283.82" x2="109.7" y2="283.82" stroke="#383838" stroke-width="2"/>
<line x1="600.4" y1="283.82" x2="594.1999999999999" y2="283.82" stroke="#383838" stroke-width="2"/>
<line x1="103.5" y1="278.27" x2="109.7" y2="278.27" stroke="#383838" stroke-width="2"/>
<line x1="600.4" y1="278.27" x2="594.1999999999999" y2="278.27" stroke="#383838" stroke-width="2"/>
<line x1="103.5" y1="273.47" x2="109.7" y2="273.47" stroke="#383838" stroke-width="2"/>
<line x1="600.4" y1="273.47" x2="594.1999999999999" y2="273.47" stroke="#383838" stroke-width="2"/>
<line x1="103.5" y1="269.24" x2="109.7" y2="269.24" stroke="#383838" stroke-width="2"/>
<line x1="600.4" y1="269.24" x2="594.1999999999999" y2="269.24" stroke="#383838" stroke-width="2"/>
<line x1="103.5" y1="265.45" x2="115.5" y2="265.45" stroke="#383838" stroke-width="2"/>
<line x1="600.4" y1="265.45" x2="588.4" y2="265.45" stroke="#383838" stroke-width="2"/>
<line x1="103.5" y1="240.53" x2="109.7" y2="240.53" stroke="#383838" stroke-width="2"/>
<line x1="600.4" y1="240.53" x2="594.1999999999999" y2="240.53" stroke="#383838" stroke-width="2"/>
<line x1="103.5" y1="225.95" x2="109.7" y2="225.95" stroke="#383838" stroke-width="2"/>
<line x1="600.4" y1="225.95" x2="594.1999999999999" y2="225.95" stroke="#383838" stroke-width="2"/>
<line x1="103.5" y1="215.61" x2="109.7" y2="215.61" stroke="#383838" stroke-width="2"/>
<line x1="600.4" y1="215.61" x2="594.1999999999999" y2="215.61" stroke="#383838" stroke-width="2"/>
<line x1="103.5" y1="207.59" x2="109.7" y2="207.59" stroke="#383838" stroke-width="2"/>
<line x1="600.4" y1="207.59" x2="594.1999999999999" y2="207.59" stroke="#383838" stroke-width="2"/>
<line x1="103.5" y1="201.03" x2="109.7" y2="201.03" stroke="#383838" stroke-width="2"/>
<line x1="600.4" y1="201.03" x2="594.1999999999999" y2="201.03" stroke="#383838" stroke-width="2"/>
<line x1="103.5" y1="195.49" x2="109.7" y2="195.49" stroke="#383838" stroke-width="2"/>
<line x1="600.4" y1="195.49" x2="594.1999999999999" y2="195.49" stroke="#383838" stroke-width="2"/>
<line x1="103.5" y1="190.69" x2="109.7" y2="190.69" stroke="#383838" stroke-width="2"/>
<line x1="600.4" y1="190.69" x2="594.1999999999999" y2="190.69" stroke="#383838" stroke-width="2"/>
<line x1="103.5" y1="186.45" x2="109.7" y2="186.45" stroke="#383838" stroke-width="2"/>
<line x1="600.4" y1="186.45" x2="594.1999999999999" y2="186.45" stroke="#383838" stroke-width="2"/>
<line x1="103.5" y1="182.67" x2="115.5" y2="182.67" stroke="#383838" stroke-width="2"/>
<line x1="600.4" y1="182.67" x2="588.4" y2="182.67" stroke="#383838" stroke-width="2"/>
<line x1="103.5" y1="157.75" x2="109.7" y2="157.75" stroke="#383838" stroke-width="2"/>
<line x1="600.4" y1="157.75" x2="594.1999999999999" y2="157.75" stroke="#383838" stroke-width="2"/>
<line x1="103.5" y1="143.17" x2="109.7" y2="143.17" stroke="#383838" stroke-width="2"/>
<line x1="600.4" y1="143.17" x2="594.1999999999999" y2="143.17" stroke="#383838" stroke-width="2"/>
<line x1="103.5" y1="132.83" x2="109.7" y2="132.83" stroke="#383838" stroke-width="2"/>
<line x1="600.4" y1="132.83" x2="594.1999999999999" y2="132.83" stroke="#383838" stroke-width="2"/>
<line x1="103.5" y1="124.80" x2="109.7" y2="124.80" stroke="#383838" stroke-width="2"/>
<line x1="600.4" y1="124.80" x2="594.1999999999999" y2="124.80" stroke="#383838" stroke-width="2"/>
<line x1="103.5" y1="118.25" x2="109.7" y2="118.25" stroke="#383838" stroke-width="2"/>
<line x1="600.4" y1="118.25" x2="594.1999999999999" y2="118.25" stroke="#383838" stroke-width="2"/>
<line x1="103.5" y1="112.71" x2="109.7" y2="112.71" stroke="#383838" stroke-width="2"/>
<line x1="600.4" y1="112.71" x2="594.1999999999999" y2="112.71" stroke="#383838" stroke-width="2"/>
<line x1="103.5" y1="107.91" x2="109.7" y2="107.91" stroke="#383838" stroke-width="2"/>
<line x1="600.4" y1="107.91" x2="594.1999999999999" y2="107.91" stroke="#383838" stroke-width="2"/>
<line x1="103.5" y1="103.67" x2="109.7" y2="103.67" stroke="#383838" stroke-width="2"/>
<line x1="600.4" y1="103.67" x2="594.1999999999999" y2="103.67" stroke="#383838" stroke-width="2"/>
<line x1="103.5" y1="99.88" x2="115.5" y2="99.88" stroke="#383838" stroke-width="2"/>
<line x1="600.4" y1="99.88" x2="588.4" y2="99.88" stroke="#383838" stroke-width="2"/>
<line x1="103.5" y1="74.96" x2="109.7" y2="74.96" stroke="#383838" stroke-width="2"/>
<line x1="600.4" y1="74.96" x2="594.1999999999999" y2="74.96" stroke="#383838" stroke-width="2"/>
<line x1="103.5" y1="60.39" x2="109.7" y2="60.39" stroke="#383838" stroke-width="2"/>
<line x1="600.4" y1="60.39" x2="594.1999999999999" y2="60.39" stroke="#383838" stroke-width="2"/>
<line x1="103.5" y1="50.04" x2="109.7" y2="50.04" stroke="#383838" stroke-width="2"/>
<line x1="600.4" y1="50.04" x2="594.1999999999999" y2="50.04" stroke="#383838" stroke-width="2"/>
<line x1="103.5" y1="42.02" x2="109.7" y2="42.02" stroke="#383838" stroke-width="2"/>
<line x1="600.4" y1="42.02" x2="594.1999999999999" y2="42.02" stroke="#383838" stroke-width="2"/>
<line x1="103.5" y1="35.47" x2="109.7" y2="35.47" stroke="#383838" stroke-width="2"/>
<line x1="600.4" y1="35.47" x2="594.1999999999999" y2="35.47" stroke="#383838" stroke-width="2"/>
<line x1="103.5" y1="29.92" x2="109.7" y2="29.92" stroke="#383838" stroke-width="2"/>
<line x1="600.4" y1="29.92" x2="594.1999999999999" y2="29.92" stroke="#383838" stroke-width="2"/>
<line x1="103.5" y1="25.12" x2="109.7" y2="25.12" stroke="#383838" stroke-width="2"/>
<line x1="600.4" y1="25.12" x2="594.1999999999999" y2="25.12" stroke="#383838" stroke-width="2"/>
<line x1="103.5" y1="20.89" x2="109.7" y2="20.89" stroke="#383838" stroke-width="2"/>
<line x1="600.4" y1="20.89" x2="594.1999999999999" y2="20.89" stroke="#383838" stroke-width="2"/>
<rect x="765.0" y="17.2" width="495.70000000000005" height="495.7" fill="none" stroke="#383838" stroke-width="2"/>
<line x1="800.41" y1="512.9" x2="800.41" y2="506.7" stroke="#383838" stroke-width="2"/>
<line x1="800.41" y1="17.2" x2="800.41" y2="23.4" stroke="#383838" stroke-width="2"/>
<line x1="835.81" y1="512.9" x2="835.81" y2="506.7" stroke="#383838" stroke-width="2"/>
<line x1="835.81" y1="17.2" x2="835.81" y2="23.4" stroke="#383838" stroke-width="2"/>
<line x1="871.22" y1="512.9" x2="871.22" y2="506.7" stroke="#383838" stroke-width="2"/>
<line x1="871.22" y1="17.2" x2="871.22" y2="23.4" stroke="#383838" stroke-width="2"/>
<line x1="906.63" y1="512.9" x2="906.63" y2="506.7" stroke="#383838" stroke-width="2"/>
<line x1="906.63" y1="17.2" x2="906.63" y2="23.4" stroke="#383838" stroke-width="2"/>
<line x1="942.04" y1="512.9" x2="942.04" y2="506.7" stroke="#383838" stroke-width="2"/>
<line x1="942.04" y1="17.2" x2="942.04" y2="23.4" stroke="#383838" stroke-width="2"/>
<line x1="977.44" y1="512.9" x2="977.44" y2="506.7" stroke="#383838" stroke-width="2"/>
<line x1="977.44" y1="17.2" x2="977.44" y2="23.4" stroke="#383838" stroke-width="2"/>
<line x1="1012.85" y1="512.9" x2="1012.85" y2="500.9" stroke="#383838" stroke-width="2"/>
<line x1="1012.85" y1="17.2" x2="1012.85" y2="29.2" stroke="#383838" stroke-width="2"/>
<line x1="1048.26" y1="512.9" x2="1048.26" y2="506.7" stroke="#383838" stroke-width="2"/>
<line x1="1048.26" y1="17.2" x2="1048.26" y2="23.4" stroke="#383838" stroke-width="2"/>
<line x1="1083.66" y1="512.9" x2="1083.66" y2="506.7" stroke="#383838" stroke-width="2"/>
<line x1="1083.66" y1="17.2" x2="1083.66" y2="23.4" stroke="#383838" stroke-width="2"/>
<line x1="1119.07" y1="512.9" x2="1119.07" y2="506.7" stroke="#383838" stroke-width="2"/>
<line x1="1119.07" y1="17.2" x2="1119.07" y2="23.4" stroke="#383838" stroke-width="2"/>
<line x1="1154.48" y1="512.9" x2="1154.48" y2="506.7" stroke="#383838" stroke-width="2"/>
<line x1="1154.48" y1="17.2" x2="1154.48" y2="23.4" stroke="#383838" stroke-width="2"/>
<line x1="1189.89" y1="512.9" x2="1189.89" y2="506.7" stroke="#383838" stroke-width="2"/>
<line x1="1189.89" y1="17.2" x2="1189.89" y2="23.4" stroke="#383838" stroke-width="2"/>
<line x1="1225.29" y1="512.9" x2="1225.29" y2="506.7" stroke="#383838" stroke-width="2"/>
<line x1="1225.29" y1="17.2" x2="1225.29" y2="23.4" stroke="#383838" stroke-width="2"/>
<line x1="765.0" y1="425.07" x2="771.2" y2="425.07" stroke="#383838" stroke-width="2"/>
<line x1="1260.7" y1="425.07" x2="1254.5" y2="425.07" stroke="#383838" stroke-width="2"/>
<line x1="765.0" y1="373.69" x2="771.2" y2="373.69" stroke="#383838" stroke-width="2"/>
<line x1="1260.7" y1="373.69" x2="1254.5" y2="373.69" stroke="#383838" stroke-width="2"/>
<line x1="765.0" y1="337.24" x2="771.2" y2="337.24" stroke="#383838" stroke-width="2"/>
<line x1="1260.7" y1="337.24" x2="1254.5" y2="337.24" stroke="#383838" stroke-width="2"/>
<line x1="765.0" y1="308.97" x2="771.2" y2="308.97" stroke="#383838" stroke-width="2"/>
<line x1="1260.7" y1="308.97" x2="1254.5" y2="308.97" stroke="#383838" stroke-width="2"/>
<line x1="765.0" y1="285.86" x2="771.2" y2="285.86" stroke="#383838" stroke-width="2"/>
<line x1="1260.7" y1="285.86" x2="1254.5" y2="285.86" stroke="#383838" stroke-width="2"/>
<line x1="765.0" y1="266.33" x2="771.2" y2="266.33" stroke="#383838" stroke-width="2"/>
<line x1="1260.7" y1="266.33" x2="1254.5" y2="266.33" stroke="#383838" stroke-width="2"/>
<line x1="765.0" y1="249.41" x2="771.2" y2="249.41" stroke="#383838" stroke-width="2"/>
<line x1="1260.7" y1="249.41" x2="1254.5" y2="249.41" stroke="#383838" stroke-width="2"/>
<line x1="765.0" y1="234.49" x2="771.2" y2="234.49" stroke="#383838" stroke-width="2"/>
<line x1="1260.7" y1="234.49" x2="1254.5" y2="234.49" stroke="#383838" stroke-width="2"/>
<line x1="765.0" y1="221.13" x2="777.0" y2="221.13" stroke="#383838" stroke-width="2"/>
<line x1="1260.7" y1="221.13" x2="1248.7" y2="221.13" stroke="#383838" stroke-width="2"/>
<line x1="765.0" y1="133.30" x2="771.2" y2="133.30" stroke="#383838" stroke-width="2"/>
<line x1="1260.7" y1="133.30" x2="1254.5" y2="133.30" stroke="#383838" stroke-width="2"/>
<line x1="765.0" y1="81.93" x2="771.2" y2="81.93" stroke="#383838" stroke-width="2"/>
<line x1="1260.7" y1="81.93" x2="1254.5" y2="81.93" stroke="#383838" stroke-width="2"/>
<line x1="765.0" y1="45.47" x2="771.2" y2="45.47" stroke="#383838" stroke-width="2"/>
<line x1="1260.7" y1="45.47" x2="1254.5" y2="45.47" stroke="#383838" stroke-width="2"/>
<text x="81.7" y="525.8" font-size="27.5" text-anchor="end" fill="#1e1e1e" >10</text>
<text x="82.6" y="510.09999999999997" font-size="16.5" text-anchor="start" fill="#1e1e1e" >2</text>
<text x="81.7" y="443.01666666666665" font-size="27.5" text-anchor="end" fill="#1e1e1e" >10</text>
<text x="82.6" y="427.31666666666666" font-size="16.5" text-anchor="start" fill="#1e1e1e" >3</text>
<text x="81.7" y="360.23333333333335" font-size="27.5" text-anchor="end" fill="#1e1e1e" >10</text>
<text x="82.6" y="344.53333333333336" font-size="16.5" text-anchor="start" fill="#1e1e1e" >4</text>
<text x="81.7" y="277.45" font-size="27.5" text-anchor="end" fill="#1e1e1e" >10</text>
<text x="82.6" y="261.75" font-size="16.5" text-anchor="start" fill="#1e1e1e" >5</text>
<text x="81.7" y="194.66666666666669" font-size="27.5" text-anchor="end" fill="#1e1e1e" >10</text>
<text x="82.6" y="178.9666666666667" font-size="16.5" text-anchor="start" fill="#1e1e1e" >6</text>
<text x="81.7" y="111.88333333333333" font-size="27.5" text-anchor="end" fill="#1e1e1e" >10</text>
<text x="82.6" y="96.18333333333332" font-size="16.5" text-anchor="start" fill="#1e1e1e" >7</text>
<text x="81.7" y="29.100000000000023" font-size="27.5" text-anchor="end" fill="#1e1e1e" >10</text>
<text x="82.6" y="13.400000000000023" font-size="16.5" text-anchor="start" fill="#1e1e1e" >8</text>
<text x="741.8" y="524.5" font-size="27.5" text-anchor="end" fill="#1e1e1e" >10</text>
<text x="743.3" y="508.9" font-size="16.5" text-anchor="start" fill="#1e1e1e" >2</text>
<text x="741.8" y="232.73499017940193" font-size="27.5" text-anchor="end" fill="#1e1e1e" >10</text>
<text x="743.3" y="217.13499017940194" font-size="16.5" text-anchor="start" fill="#1e1e1e" >3</text>
<text x="103.5" y="548.3" font-size="27.5" text-anchor="middle" fill="#1e1e1e" >0</text>
<text x="269.1333333333333" y="548.3" font-size="27.5" text-anchor="middle" fill="#1e1e1e" >10</text>
<text x="434.76666666666665" y="548.3" font-size="27.5" text-anchor="middle" fill="#1e1e1e" >20</text>
<text x="600.4" y="548.3" font-size="27.5" text-anchor="middle" fill="#1e1e1e" >30</text>
<text x="765.0" y="548.0" font-size="27.5" text-anchor="middle" fill="#1e1e1e" >1.5</text>
<text x="1012.85" y="548.0" font-size="27.5" text-anchor="middle" fill="#1e1e1e" >2.9</text>
<text x="1260.7" y="548.0" font-size="27.5" text-anchor="middle" fill="#1e1e1e" >4.3</text>
<text x="279.0" y="599.4" font-size="28.0" text-anchor="start" fill="#1e1e1e" >1000/T</text>
<text x="373.5" y="599.4" font-size="28.0" text-anchor="start" fill="#1e1e1e" >(</text>
<text x="383.5" y="599.4" font-size="28.0" text-anchor="start" fill="#1e1e1e" >K</text>
<text x="402.0" y="586.0" font-size="16" text-anchor="start" fill="#1e1e1e" >-</text>
<text x="407.8" y="584.2" font-size="16" text-anchor="start" fill="#1e1e1e" >1</text>
<text x="417.9" y="599.4" font-size="28.0" text-anchor="start" fill="#1e1e1e" >)</text>
<text x="939.7" y="599.4" font-size="28.0" text-anchor="start" fill="#1e1e1e" >1000/T</text>
<text x="1034.2" y="599.4" font-size="28.0" text-anchor="start" fill="#1e1e1e" >(</text>
<text x="1044.2" y="599.4" font-size="28.0" text-anchor="start" fill="#1e1e1e" >K</text>
<text x="1062.7" y="586.0" font-size="16" text-anchor="start" fill="#1e1e1e" >-</text>
<text x="1068.5" y="584.2" font-size="16" text-anchor="start" fill="#1e1e1e" >1</text>
<text x="1078.6" y="599.4" font-size="28.0" text-anchor="start" fill="#1e1e1e" >)</text>
<g transform="translate(21.8,0) rotate(-90)" font-size="28.0" fill="#1e1e1e"><text x="-387.4" y="0">Sheet resistance (</text><text x="-161.7" y="1.0" font-size="26">&#937;</text><text x="-141.0" y="10.3" font-size="16">sq</text><text x="-124.6" y="0">)</text></g>
<g transform="translate(682.7,0) rotate(-90)" font-size="28.0" fill="#1e1e1e"><text x="-387.4" y="0">Sheet resistance (</text><text x="-161.7" y="1.0" font-size="26">&#937;</text><text x="-141.0" y="10.3" font-size="16">sq</text><text x="-124.6" y="0">)</text></g>
<text x="148.6" y="74.3" font-size="28.5" text-anchor="start" fill="#1e1e1e" >(a)</text>
<text x="806.3" y="78.4" font-size="28.5" text-anchor="start" fill="#1e1e1e" >(b)</text>
<text x="874.2" y="134.5" font-size="25.5" text-anchor="start" fill="#1e1e1e" >E</text>
<text x="889.6" y="144.1" font-size="15.5" text-anchor="start" fill="#1e1e1e" >a</text>
<text x="907.3" y="134.5" font-size="25.5" text-anchor="start" fill="#1e1e1e" >=</text>
<text x="930.8" y="134.5" font-size="25.5" text-anchor="start" fill="#1e1e1e" >116</text>
<text x="978.6" y="134.5" font-size="25.5" text-anchor="start" fill="#1e1e1e" >meV</text>
<text x="1082.0" y="309.8" font-size="25.5" text-anchor="start" fill="#1e1e1e" >E</text>
<text x="1097.4" y="319.40000000000003" font-size="15.5" text-anchor="start" fill="#1e1e1e" >a</text>
<text x="1115.4" y="309.8" font-size="25.5" text-anchor="start" fill="#1e1e1e" >=</text>
<text x="1138.2" y="309.8" font-size="25.5" text-anchor="start" fill="#1e1e1e" >107</text>
<text x="1186.6" y="309.8" font-size="25.5" text-anchor="start" fill="#1e1e1e" >meV</text>
<rect x="442.6" y="362.9" width="9.5" height="9.5" fill="none" stroke="#ee5a5a" stroke-width="1.2"/>
<text x="478.2" y="375.0" font-size="22.5" text-anchor="start" fill="#1e1e1e" >5 min</text>
<circle cx="447.3" cy="394.6" r="5.8" fill="none" stroke="#5a5af2" stroke-width="1.2"/>
<text x="478.2" y="402.6" font-size="22.5" text-anchor="start" fill="#1e1e1e" >10 min</text>
<path d="M447.3,416.3L453.6,427.6L441.0,427.6Z" fill="none" stroke="#4ee04e" stroke-width="1.2" stroke-linejoin="miter"/>
<text x="478.2" y="430.3" font-size="22.5" text-anchor="start" fill="#1e1e1e" >25 min</text>
<path d="M447.3,444.3L453.8,450.8L447.3,457.3L440.8,450.8Z" fill="none" stroke="#353535" stroke-width="1.2"/>
<text x="478.2" y="457.9" font-size="22.5" text-anchor="start" fill="#1e1e1e" >40 min</text>
<rect x="1086.2" y="376.4" width="9.5" height="9.5" fill="none" stroke="#ee5a5a" stroke-width="1.2"/>
<text x="1122.7" y="388.8" font-size="22.5" text-anchor="start" fill="#1e1e1e" >5 min</text>
<circle cx="1091.0" cy="410.4" r="5.8" fill="none" stroke="#5a5af2" stroke-width="1.2"/>
<text x="1122.7" y="417.3" font-size="22.5" text-anchor="start" fill="#1e1e1e" >10 min</text>
<path d="M1091.0,430.1L1097.3,441.4L1084.7,441.4Z" fill="none" stroke="#4ee04e" stroke-width="1.2" stroke-linejoin="miter"/>
<text x="1122.7" y="445.7" font-size="22.5" text-anchor="start" fill="#1e1e1e" >25 min</text>
<path d="M1091.0,458.8L1097.5,465.3L1091.0,471.8L1084.5,465.3Z" fill="none" stroke="#353535" stroke-width="1.2"/>
<text x="1122.7" y="473.5" font-size="22.5" text-anchor="start" fill="#1e1e1e" >40 min</text>
</svg></body></html>
